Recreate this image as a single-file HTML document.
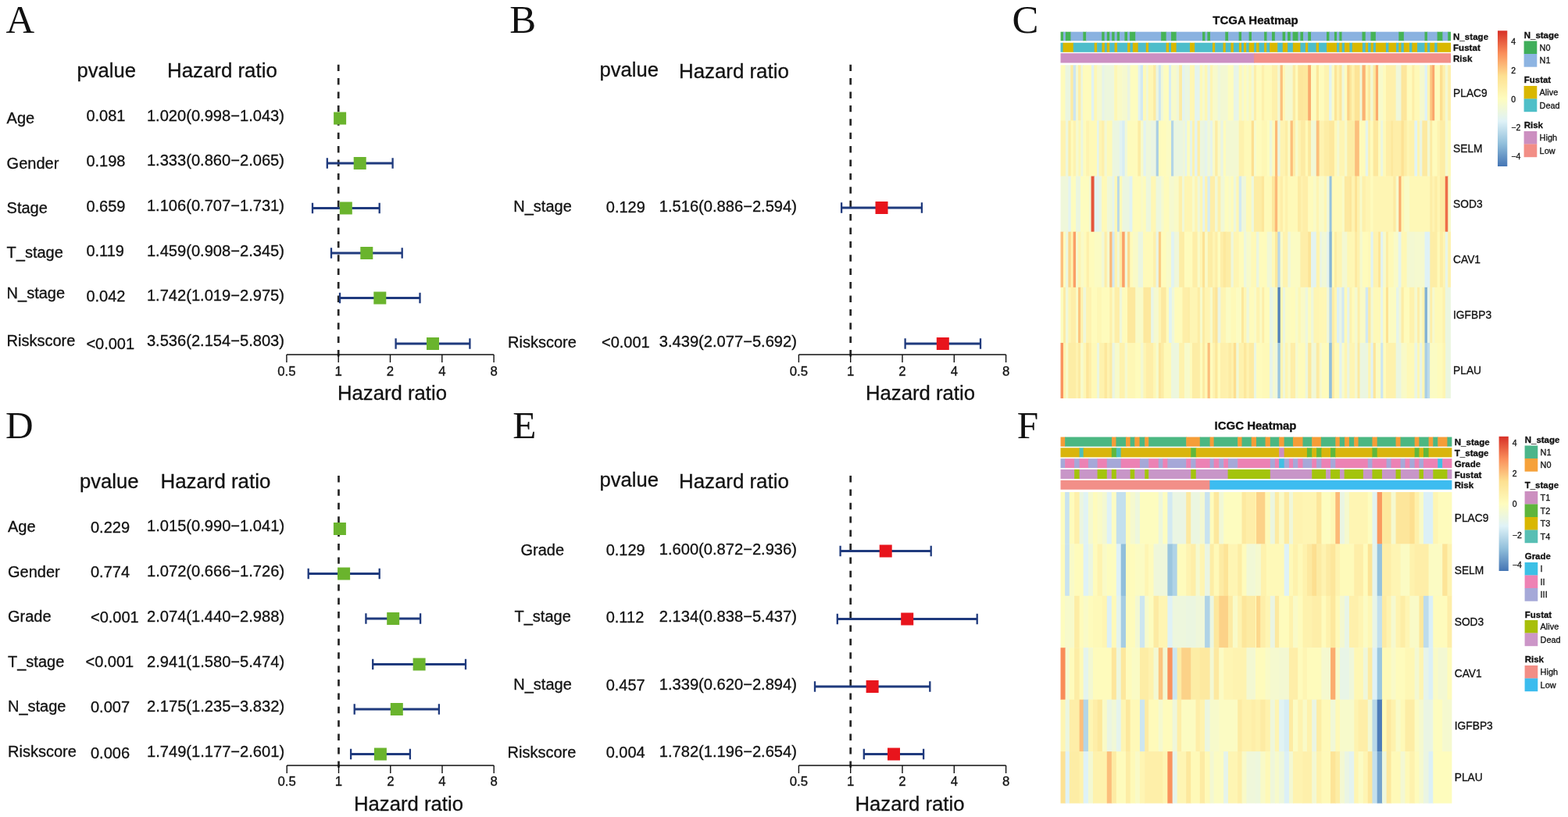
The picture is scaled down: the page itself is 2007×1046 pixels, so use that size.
<!DOCTYPE html>
<html lang="en"><head><meta charset="utf-8"><title>Forest plots and heatmaps</title>
<style>
html,body{margin:0;padding:0;background:#fff}
svg{display:block}
text{fill:#111}
.s{font-family:"Liberation Sans",Arial,Helvetica,sans-serif;stroke:#111;stroke-width:0.3px}
.b{font-family:"Liberation Sans",Arial,Helvetica,sans-serif;font-weight:bold;stroke:#111;stroke-width:0.3px}
.f{font-family:"Liberation Serif","Times New Roman",serif}
</style></head><body>
<svg width="2007" height="1046" viewBox="0 0 2007 1046">
<rect width="2007" height="1046" fill="#fff"/>
<text x="7.4" y="42.3" font-size="50.8" class="f">A</text>
<text x="98.5" y="99" font-size="25.6" class="s">pvalue</text>
<text x="214" y="99" font-size="25.85" class="s">Hazard ratio</text>
<line x1="433.2" y1="82.7" x2="433.2" y2="463" stroke="#262626" stroke-width="2.7" stroke-dasharray="8.4 9"/>
<text x="8.6" y="158.4" font-size="20" class="s">Age</text>
<text x="110.4" y="155.3" font-size="20" class="s">0.081</text>
<text x="187.9" y="154.6" font-size="20.12" class="s">1.020(0.998−1.043)</text>
<path d="M433.0 151.5H437.2" stroke="#1f3a7d" stroke-width="2.8" fill="none"/><path d="M433.0 144.8v13.4M437.2 144.8v13.4" stroke="#1f3a7d" stroke-width="2.3" fill="none"/>
<rect x="427.1" y="143.5" width="16" height="16" fill="#6ab42d"/>
<text x="8.6" y="216.1" font-size="20" class="s">Gender</text>
<text x="110.4" y="212.6" font-size="20" class="s">0.198</text>
<text x="187.9" y="211.8" font-size="20.12" class="s">1.333(0.860−2.065)</text>
<path d="M418.8 209H502.6" stroke="#1f3a7d" stroke-width="2.8" fill="none"/><path d="M418.8 202.3v13.4M502.6 202.3v13.4" stroke="#1f3a7d" stroke-width="2.3" fill="none"/>
<rect x="452.7" y="201" width="16" height="16" fill="#6ab42d"/>
<text x="8.6" y="273.4" font-size="20" class="s">Stage</text>
<text x="110.4" y="270.8" font-size="20" class="s">0.659</text>
<text x="187.9" y="270.1" font-size="20.12" class="s">1.106(0.707−1.731)</text>
<path d="M400.0 266.5H485.7" stroke="#1f3a7d" stroke-width="2.8" fill="none"/><path d="M400.0 259.8v13.4M485.7 259.8v13.4" stroke="#1f3a7d" stroke-width="2.3" fill="none"/>
<rect x="434.8" y="258.5" width="16" height="16" fill="#6ab42d"/>
<text x="8.6" y="329.6" font-size="20" class="s">T_stage</text>
<text x="110.4" y="328.3" font-size="20" class="s">0.119</text>
<text x="187.9" y="328.1" font-size="20.12" class="s">1.459(0.908−2.345)</text>
<path d="M424.0 324H514.7" stroke="#1f3a7d" stroke-width="2.8" fill="none"/><path d="M424.0 317.3v13.4M514.7 317.3v13.4" stroke="#1f3a7d" stroke-width="2.3" fill="none"/>
<rect x="461.3" y="316" width="16" height="16" fill="#6ab42d"/>
<text x="8.6" y="382.0" font-size="20" class="s">N_stage</text>
<text x="110.4" y="385.6" font-size="20" class="s">0.042</text>
<text x="187.9" y="385.4" font-size="20.12" class="s">1.742(1.019−2.975)</text>
<path d="M435.0 381.5H537.5" stroke="#1f3a7d" stroke-width="2.8" fill="none"/><path d="M435.0 374.8v13.4M537.5 374.8v13.4" stroke="#1f3a7d" stroke-width="2.3" fill="none"/>
<rect x="478.3" y="373.5" width="16" height="16" fill="#6ab42d"/>
<text x="8.6" y="443.3" font-size="20" class="s">Riskscore</text>
<text x="110.4" y="447.1" font-size="20" class="s">&lt;0.001</text>
<text x="187.9" y="443.0" font-size="20.12" class="s">3.536(2.154−5.803)</text>
<path d="M506.6 440H601.4" stroke="#1f3a7d" stroke-width="2.8" fill="none"/><path d="M506.6 433.3v13.4M601.4 433.3v13.4" stroke="#1f3a7d" stroke-width="2.3" fill="none"/>
<rect x="546.0" y="432" width="16" height="16" fill="#6ab42d"/>
<path d="M366.9 454H632.1M366.9 454v10M433.2 454v10M499.5 454v10M565.8 454v10M632.1 454v10" stroke="#111" stroke-width="1.4" fill="none"/>
<text x="366.9" y="481" font-size="16.8" class="s" text-anchor="middle">0.5</text>
<text x="433.2" y="481" font-size="16.8" class="s" text-anchor="middle">1</text>
<text x="499.5" y="481" font-size="16.8" class="s" text-anchor="middle">2</text>
<text x="565.8" y="481" font-size="16.8" class="s" text-anchor="middle">4</text>
<text x="632.1" y="481" font-size="16.8" class="s" text-anchor="middle">8</text>
<text x="432" y="511.6" font-size="25.7" class="s">Hazard ratio</text>
<text x="652.2" y="42.3" font-size="50.8" class="f">B</text>
<text x="767.5" y="98" font-size="25.6" class="s">pvalue</text>
<text x="869" y="99.5" font-size="25.85" class="s">Hazard ratio</text>
<line x1="1088.7" y1="82.7" x2="1088.7" y2="463" stroke="#262626" stroke-width="2.7" stroke-dasharray="8.4 9"/>
<text x="657.3" y="270.5" font-size="20" class="s">N_stage</text>
<text x="775.8" y="271.5" font-size="20" class="s">0.129</text>
<text x="843.8" y="270.5" font-size="20.12" class="s">1.516(0.886−2.594)</text>
<path d="M1077.1 266H1179.9" stroke="#1f3a7d" stroke-width="2.8" fill="none"/><path d="M1077.1 259.3v13.4M1179.9 259.3v13.4" stroke="#1f3a7d" stroke-width="2.3" fill="none"/>
<rect x="1120.5" y="258" width="16" height="16" fill="#e8141c"/>
<text x="650" y="445" font-size="20" class="s">Riskscore</text>
<text x="770" y="444.5" font-size="20" class="s">&lt;0.001</text>
<text x="843.8" y="444" font-size="20.12" class="s">3.439(2.077−5.692)</text>
<path d="M1158.6 440H1255.0" stroke="#1f3a7d" stroke-width="2.8" fill="none"/><path d="M1158.6 433.3v13.4M1255.0 433.3v13.4" stroke="#1f3a7d" stroke-width="2.3" fill="none"/>
<rect x="1198.8" y="432" width="16" height="16" fill="#e8141c"/>
<path d="M1022.4 454H1287.6M1022.4 454v10M1088.7 454v10M1155.0 454v10M1221.3 454v10M1287.6 454v10" stroke="#111" stroke-width="1.4" fill="none"/>
<text x="1022.4" y="481" font-size="16.8" class="s" text-anchor="middle">0.5</text>
<text x="1088.7" y="481" font-size="16.8" class="s" text-anchor="middle">1</text>
<text x="1155.0" y="481" font-size="16.8" class="s" text-anchor="middle">2</text>
<text x="1221.3" y="481" font-size="16.8" class="s" text-anchor="middle">4</text>
<text x="1287.6" y="481" font-size="16.8" class="s" text-anchor="middle">8</text>
<text x="1108" y="511.6" font-size="25.7" class="s">Hazard ratio</text>
<text x="6.9" y="560.5" font-size="49.3" class="f">D</text>
<text x="102" y="624.5" font-size="25.6" class="s">pvalue</text>
<text x="205.5" y="624.5" font-size="25.85" class="s">Hazard ratio</text>
<line x1="433.5" y1="609" x2="433.5" y2="989" stroke="#262626" stroke-width="2.7" stroke-dasharray="8.4 9"/>
<text x="10.0" y="681.4" font-size="20" class="s">Age</text>
<text x="116" y="681.5" font-size="20" class="s">0.229</text>
<text x="188.0" y="680.3" font-size="20.12" class="s">1.015(0.990−1.041)</text>
<path d="M432.5 677H437.3" stroke="#1f3a7d" stroke-width="2.8" fill="none"/><path d="M432.5 670.3v13.4M437.3 670.3v13.4" stroke="#1f3a7d" stroke-width="2.3" fill="none"/>
<rect x="426.9" y="669" width="16" height="16" fill="#6ab42d"/>
<text x="10.0" y="738.9" font-size="20" class="s">Gender</text>
<text x="116" y="739.0" font-size="20" class="s">0.774</text>
<text x="188.0" y="737.8" font-size="20.12" class="s">1.072(0.666−1.726)</text>
<path d="M394.7 734.5H485.7" stroke="#1f3a7d" stroke-width="2.8" fill="none"/><path d="M394.7 727.8v13.4M485.7 727.8v13.4" stroke="#1f3a7d" stroke-width="2.3" fill="none"/>
<rect x="432.1" y="726.5" width="16" height="16" fill="#6ab42d"/>
<text x="10.0" y="795.9" font-size="20" class="s">Grade</text>
<text x="116" y="797.0" font-size="20" class="s">&lt;0.001</text>
<text x="188.0" y="796.3" font-size="20.12" class="s">2.074(1.440−2.988)</text>
<path d="M468.4 792H538.1" stroke="#1f3a7d" stroke-width="2.8" fill="none"/><path d="M468.4 785.3v13.4M538.1 785.3v13.4" stroke="#1f3a7d" stroke-width="2.3" fill="none"/>
<rect x="495.2" y="784" width="16" height="16" fill="#6ab42d"/>
<text x="10.0" y="853.9" font-size="20" class="s">T_stage</text>
<text x="109.5" y="854.0" font-size="20" class="s">&lt;0.001</text>
<text x="188.0" y="853.8" font-size="20.12" class="s">2.941(1.580−5.474)</text>
<path d="M477.2 850.5H596.0" stroke="#1f3a7d" stroke-width="2.8" fill="none"/><path d="M477.2 843.8v13.4M596.0 843.8v13.4" stroke="#1f3a7d" stroke-width="2.3" fill="none"/>
<rect x="528.6" y="842.5" width="16" height="16" fill="#6ab42d"/>
<text x="10.0" y="910.9" font-size="20" class="s">N_stage</text>
<text x="116" y="912.0" font-size="20" class="s">0.007</text>
<text x="188.0" y="910.8" font-size="20.12" class="s">2.175(1.235−3.832)</text>
<path d="M453.7 908H561.9" stroke="#1f3a7d" stroke-width="2.8" fill="none"/><path d="M453.7 901.3v13.4M561.9 901.3v13.4" stroke="#1f3a7d" stroke-width="2.3" fill="none"/>
<rect x="499.8" y="900" width="16" height="16" fill="#6ab42d"/>
<text x="10.0" y="968.9" font-size="20" class="s">Riskscore</text>
<text x="116" y="970.5" font-size="20" class="s">0.006</text>
<text x="188.0" y="968.8" font-size="20.12" class="s">1.749(1.177−2.601)</text>
<path d="M449.1 965.5H524.9" stroke="#1f3a7d" stroke-width="2.8" fill="none"/><path d="M449.1 958.8v13.4M524.9 958.8v13.4" stroke="#1f3a7d" stroke-width="2.3" fill="none"/>
<rect x="478.9" y="957.5" width="16" height="16" fill="#6ab42d"/>
<path d="M367.2 980H632.2M367.2 980v10M433.5 980v10M499.8 980v10M566.0 980v10M632.2 980v10" stroke="#111" stroke-width="1.4" fill="none"/>
<text x="367.2" y="1006.3" font-size="16.8" class="s" text-anchor="middle">0.5</text>
<text x="433.5" y="1006.3" font-size="16.8" class="s" text-anchor="middle">1</text>
<text x="499.8" y="1006.3" font-size="16.8" class="s" text-anchor="middle">2</text>
<text x="566.0" y="1006.3" font-size="16.8" class="s" text-anchor="middle">4</text>
<text x="632.2" y="1006.3" font-size="16.8" class="s" text-anchor="middle">8</text>
<text x="453" y="1038" font-size="25.7" class="s">Hazard ratio</text>
<text x="656.2" y="560.5" font-size="49.3" class="f">E</text>
<text x="767.5" y="623" font-size="25.6" class="s">pvalue</text>
<text x="869" y="624.5" font-size="25.85" class="s">Hazard ratio</text>
<line x1="1088.7" y1="609" x2="1088.7" y2="989" stroke="#262626" stroke-width="2.7" stroke-dasharray="8.4 9"/>
<text x="666.5" y="711.2" font-size="20" class="s">Grade</text>
<text x="775.7" y="711.0" font-size="20" class="s">0.129</text>
<text x="843.8" y="709.8" font-size="20.12" class="s">1.600(0.872−2.936)</text>
<path d="M1075.6 705.5H1191.7" stroke="#1f3a7d" stroke-width="2.8" fill="none"/><path d="M1075.6 698.8v13.4M1191.7 698.8v13.4" stroke="#1f3a7d" stroke-width="2.3" fill="none"/>
<rect x="1125.7" y="697.5" width="16" height="16" fill="#e8141c"/>
<text x="658.5" y="795.7" font-size="20" class="s">T_stage</text>
<text x="775.7" y="796.5" font-size="20" class="s">0.112</text>
<text x="843.8" y="795.8" font-size="20.12" class="s">2.134(0.838−5.437)</text>
<path d="M1071.8 792.5H1250.7" stroke="#1f3a7d" stroke-width="2.8" fill="none"/><path d="M1071.8 785.8v13.4M1250.7 785.8v13.4" stroke="#1f3a7d" stroke-width="2.3" fill="none"/>
<rect x="1153.2" y="784.5" width="16" height="16" fill="#e8141c"/>
<text x="657.3" y="882.8" font-size="20" class="s">N_stage</text>
<text x="775.7" y="883.6" font-size="20" class="s">0.457</text>
<text x="843.8" y="882.8" font-size="20.12" class="s">1.339(0.620−2.894)</text>
<path d="M1043.0 879H1190.3" stroke="#1f3a7d" stroke-width="2.8" fill="none"/><path d="M1043.0 872.3v13.4M1190.3 872.3v13.4" stroke="#1f3a7d" stroke-width="2.3" fill="none"/>
<rect x="1108.6" y="871" width="16" height="16" fill="#e8141c"/>
<text x="649.6" y="970.1" font-size="20" class="s">Riskscore</text>
<text x="775.7" y="970.1" font-size="20" class="s">0.004</text>
<text x="843.8" y="969.1" font-size="20.12" class="s">1.782(1.196−2.654)</text>
<path d="M1105.8 965.5H1182.1" stroke="#1f3a7d" stroke-width="2.8" fill="none"/><path d="M1105.8 958.8v13.4M1182.1 958.8v13.4" stroke="#1f3a7d" stroke-width="2.3" fill="none"/>
<rect x="1136.0" y="957.5" width="16" height="16" fill="#e8141c"/>
<path d="M1022.4 980H1287.6M1022.4 980v10M1088.7 980v10M1155.0 980v10M1221.3 980v10M1287.6 980v10" stroke="#111" stroke-width="1.4" fill="none"/>
<text x="1022.4" y="1006.3" font-size="16.8" class="s" text-anchor="middle">0.5</text>
<text x="1088.7" y="1006.3" font-size="16.8" class="s" text-anchor="middle">1</text>
<text x="1155.0" y="1006.3" font-size="16.8" class="s" text-anchor="middle">2</text>
<text x="1221.3" y="1006.3" font-size="16.8" class="s" text-anchor="middle">4</text>
<text x="1287.6" y="1006.3" font-size="16.8" class="s" text-anchor="middle">8</text>
<text x="1094.5" y="1038" font-size="25.7" class="s">Hazard ratio</text>
<text x="1607" y="31" font-size="15" class="b" text-anchor="middle">TCGA Heatmap</text>
<text x="1295.6" y="42.3" font-size="50.8" class="f">C</text>
<filter id="blC" filterUnits="userSpaceOnUse" x="1351.5" y="34.7" width="511.5" height="481.34999999999997"><feGaussianBlur stdDeviation="0.5 0.3"/></filter>
<g filter="url(#blC)">
<rect x="1357.54" y="40.7" width="3.99" height="11.6" fill="#45b356"/>
<rect x="1360.93" y="40.7" width="3.56" height="11.6" fill="#8ab2e0"/>
<rect x="1363.89" y="40.7" width="7.12" height="11.6" fill="#45b356"/>
<rect x="1370.42" y="40.7" width="16.52" height="11.6" fill="#8ab2e0"/>
<rect x="1386.34" y="40.7" width="4.41" height="11.6" fill="#45b356"/>
<rect x="1390.15" y="40.7" width="20.67" height="11.6" fill="#8ab2e0"/>
<rect x="1410.23" y="40.7" width="3.99" height="11.6" fill="#45b356"/>
<rect x="1413.61" y="40.7" width="3.82" height="11.6" fill="#8ab2e0"/>
<rect x="1416.83" y="40.7" width="3.99" height="11.6" fill="#45b356"/>
<rect x="1420.22" y="40.7" width="3.56" height="11.6" fill="#8ab2e0"/>
<rect x="1423.19" y="40.7" width="3.99" height="11.6" fill="#45b356"/>
<rect x="1426.57" y="40.7" width="3.73" height="11.6" fill="#8ab2e0"/>
<rect x="1429.71" y="40.7" width="3.99" height="11.6" fill="#45b356"/>
<rect x="1433.10" y="40.7" width="6.95" height="11.6" fill="#8ab2e0"/>
<rect x="1439.45" y="40.7" width="4.24" height="11.6" fill="#45b356"/>
<rect x="1443.09" y="40.7" width="3.56" height="11.6" fill="#8ab2e0"/>
<rect x="1446.06" y="40.7" width="7.80" height="11.6" fill="#45b356"/>
<rect x="1453.26" y="40.7" width="33.46" height="11.6" fill="#8ab2e0"/>
<rect x="1486.12" y="40.7" width="7.12" height="11.6" fill="#45b356"/>
<rect x="1492.64" y="40.7" width="6.95" height="11.6" fill="#8ab2e0"/>
<rect x="1499.00" y="40.7" width="7.21" height="11.6" fill="#45b356"/>
<rect x="1505.60" y="40.7" width="34.06" height="11.6" fill="#8ab2e0"/>
<rect x="1539.06" y="40.7" width="3.99" height="11.6" fill="#45b356"/>
<rect x="1542.45" y="40.7" width="3.56" height="11.6" fill="#8ab2e0"/>
<rect x="1545.41" y="40.7" width="4.16" height="11.6" fill="#45b356"/>
<rect x="1548.97" y="40.7" width="19.91" height="11.6" fill="#8ab2e0"/>
<rect x="1568.28" y="40.7" width="4.41" height="11.6" fill="#45b356"/>
<rect x="1572.09" y="40.7" width="14.15" height="11.6" fill="#8ab2e0"/>
<rect x="1585.65" y="40.7" width="3.99" height="11.6" fill="#45b356"/>
<rect x="1589.03" y="40.7" width="10.17" height="11.6" fill="#8ab2e0"/>
<rect x="1598.60" y="40.7" width="3.99" height="11.6" fill="#45b356"/>
<rect x="1601.99" y="40.7" width="16.69" height="11.6" fill="#8ab2e0"/>
<rect x="1618.09" y="40.7" width="3.99" height="11.6" fill="#45b356"/>
<rect x="1621.47" y="40.7" width="7.12" height="11.6" fill="#8ab2e0"/>
<rect x="1628.00" y="40.7" width="4.41" height="11.6" fill="#45b356"/>
<rect x="1631.81" y="40.7" width="10.34" height="11.6" fill="#8ab2e0"/>
<rect x="1641.55" y="40.7" width="4.24" height="11.6" fill="#45b356"/>
<rect x="1645.19" y="40.7" width="3.48" height="11.6" fill="#8ab2e0"/>
<rect x="1648.07" y="40.7" width="4.24" height="11.6" fill="#45b356"/>
<rect x="1651.71" y="40.7" width="3.56" height="11.6" fill="#8ab2e0"/>
<rect x="1654.68" y="40.7" width="7.38" height="11.6" fill="#45b356"/>
<rect x="1661.45" y="40.7" width="3.56" height="11.6" fill="#8ab2e0"/>
<rect x="1664.42" y="40.7" width="4.24" height="11.6" fill="#45b356"/>
<rect x="1668.06" y="40.7" width="6.70" height="11.6" fill="#8ab2e0"/>
<rect x="1674.16" y="40.7" width="4.41" height="11.6" fill="#45b356"/>
<rect x="1677.97" y="40.7" width="20.62" height="11.6" fill="#8ab2e0"/>
<rect x="1698.00" y="40.7" width="3.99" height="11.6" fill="#45b356"/>
<rect x="1701.38" y="40.7" width="7.12" height="11.6" fill="#8ab2e0"/>
<rect x="1707.91" y="40.7" width="3.73" height="11.6" fill="#45b356"/>
<rect x="1711.04" y="40.7" width="3.82" height="11.6" fill="#8ab2e0"/>
<rect x="1714.26" y="40.7" width="3.82" height="11.6" fill="#45b356"/>
<rect x="1717.48" y="40.7" width="26.60" height="11.6" fill="#8ab2e0"/>
<rect x="1743.48" y="40.7" width="4.84" height="11.6" fill="#45b356"/>
<rect x="1747.72" y="40.7" width="7.38" height="11.6" fill="#8ab2e0"/>
<rect x="1754.49" y="40.7" width="6.95" height="11.6" fill="#45b356"/>
<rect x="1760.85" y="40.7" width="30.08" height="11.6" fill="#8ab2e0"/>
<rect x="1790.32" y="40.7" width="7.12" height="11.6" fill="#45b356"/>
<rect x="1796.84" y="40.7" width="27.28" height="11.6" fill="#8ab2e0"/>
<rect x="1823.53" y="40.7" width="3.99" height="11.6" fill="#45b356"/>
<rect x="1826.91" y="40.7" width="13.31" height="11.6" fill="#8ab2e0"/>
<rect x="1839.62" y="40.7" width="7.38" height="11.6" fill="#45b356"/>
<rect x="1846.40" y="40.7" width="7.38" height="11.6" fill="#8ab2e0"/>
<rect x="1853.17" y="40.7" width="3.83" height="11.6" fill="#45b356"/>
<rect x="1357.50" y="54.7" width="3.61" height="12.1" fill="#4dbdca"/>
<rect x="1360.51" y="54.7" width="13.90" height="12.1" fill="#d9b800"/>
<rect x="1373.80" y="54.7" width="27.54" height="12.1" fill="#4dbdca"/>
<rect x="1400.74" y="54.7" width="3.99" height="12.1" fill="#d9b800"/>
<rect x="1404.13" y="54.7" width="6.95" height="12.1" fill="#4dbdca"/>
<rect x="1410.48" y="54.7" width="3.99" height="12.1" fill="#d9b800"/>
<rect x="1413.87" y="54.7" width="3.56" height="12.1" fill="#4dbdca"/>
<rect x="1416.83" y="54.7" width="3.99" height="12.1" fill="#d9b800"/>
<rect x="1420.22" y="54.7" width="6.95" height="12.1" fill="#4dbdca"/>
<rect x="1426.57" y="54.7" width="3.99" height="12.1" fill="#d9b800"/>
<rect x="1429.96" y="54.7" width="13.73" height="12.1" fill="#4dbdca"/>
<rect x="1443.09" y="54.7" width="3.99" height="12.1" fill="#d9b800"/>
<rect x="1446.48" y="54.7" width="3.99" height="12.1" fill="#4dbdca"/>
<rect x="1449.87" y="54.7" width="7.38" height="12.1" fill="#d9b800"/>
<rect x="1456.64" y="54.7" width="10.76" height="12.1" fill="#4dbdca"/>
<rect x="1466.81" y="54.7" width="3.82" height="12.1" fill="#d9b800"/>
<rect x="1470.03" y="54.7" width="23.22" height="12.1" fill="#4dbdca"/>
<rect x="1492.64" y="54.7" width="3.99" height="12.1" fill="#d9b800"/>
<rect x="1496.03" y="54.7" width="3.56" height="12.1" fill="#4dbdca"/>
<rect x="1499.00" y="54.7" width="7.21" height="12.1" fill="#d9b800"/>
<rect x="1505.60" y="54.7" width="17.96" height="12.1" fill="#4dbdca"/>
<rect x="1522.96" y="54.7" width="6.78" height="12.1" fill="#d9b800"/>
<rect x="1529.15" y="54.7" width="23.47" height="12.1" fill="#4dbdca"/>
<rect x="1552.02" y="54.7" width="3.73" height="12.1" fill="#d9b800"/>
<rect x="1555.15" y="54.7" width="11.02" height="12.1" fill="#4dbdca"/>
<rect x="1565.57" y="54.7" width="3.73" height="12.1" fill="#d9b800"/>
<rect x="1568.70" y="54.7" width="7.38" height="12.1" fill="#4dbdca"/>
<rect x="1575.48" y="54.7" width="3.99" height="12.1" fill="#d9b800"/>
<rect x="1578.87" y="54.7" width="7.63" height="12.1" fill="#4dbdca"/>
<rect x="1585.90" y="54.7" width="3.73" height="12.1" fill="#d9b800"/>
<rect x="1589.03" y="54.7" width="3.56" height="12.1" fill="#4dbdca"/>
<rect x="1592.00" y="54.7" width="3.82" height="12.1" fill="#d9b800"/>
<rect x="1595.22" y="54.7" width="3.99" height="12.1" fill="#4dbdca"/>
<rect x="1598.60" y="54.7" width="7.12" height="12.1" fill="#d9b800"/>
<rect x="1605.13" y="54.7" width="3.56" height="12.1" fill="#4dbdca"/>
<rect x="1608.09" y="54.7" width="3.99" height="12.1" fill="#d9b800"/>
<rect x="1611.48" y="54.7" width="7.21" height="12.1" fill="#4dbdca"/>
<rect x="1618.09" y="54.7" width="3.73" height="12.1" fill="#d9b800"/>
<rect x="1621.22" y="54.7" width="4.41" height="12.1" fill="#4dbdca"/>
<rect x="1625.03" y="54.7" width="10.76" height="12.1" fill="#d9b800"/>
<rect x="1635.20" y="54.7" width="7.21" height="12.1" fill="#4dbdca"/>
<rect x="1641.80" y="54.7" width="6.87" height="12.1" fill="#d9b800"/>
<rect x="1648.07" y="54.7" width="7.38" height="12.1" fill="#4dbdca"/>
<rect x="1654.85" y="54.7" width="10.17" height="12.1" fill="#d9b800"/>
<rect x="1664.42" y="54.7" width="7.12" height="12.1" fill="#4dbdca"/>
<rect x="1670.94" y="54.7" width="3.82" height="12.1" fill="#d9b800"/>
<rect x="1674.16" y="54.7" width="11.19" height="12.1" fill="#4dbdca"/>
<rect x="1684.75" y="54.7" width="3.85" height="12.1" fill="#d9b800"/>
<rect x="1688.00" y="54.7" width="10.60" height="12.1" fill="#4dbdca"/>
<rect x="1698.00" y="54.7" width="13.64" height="12.1" fill="#d9b800"/>
<rect x="1711.04" y="54.7" width="3.82" height="12.1" fill="#4dbdca"/>
<rect x="1714.26" y="54.7" width="3.99" height="12.1" fill="#d9b800"/>
<rect x="1717.65" y="54.7" width="3.82" height="12.1" fill="#4dbdca"/>
<rect x="1720.86" y="54.7" width="7.12" height="12.1" fill="#d9b800"/>
<rect x="1727.39" y="54.7" width="3.99" height="12.1" fill="#4dbdca"/>
<rect x="1730.78" y="54.7" width="13.73" height="12.1" fill="#d9b800"/>
<rect x="1743.90" y="54.7" width="4.41" height="12.1" fill="#4dbdca"/>
<rect x="1747.72" y="54.7" width="3.99" height="12.1" fill="#d9b800"/>
<rect x="1751.10" y="54.7" width="3.99" height="12.1" fill="#4dbdca"/>
<rect x="1754.49" y="54.7" width="3.99" height="12.1" fill="#d9b800"/>
<rect x="1757.88" y="54.7" width="3.56" height="12.1" fill="#4dbdca"/>
<rect x="1760.85" y="54.7" width="13.73" height="12.1" fill="#d9b800"/>
<rect x="1773.97" y="54.7" width="3.99" height="12.1" fill="#4dbdca"/>
<rect x="1777.36" y="54.7" width="10.34" height="12.1" fill="#d9b800"/>
<rect x="1787.10" y="54.7" width="3.82" height="12.1" fill="#4dbdca"/>
<rect x="1790.32" y="54.7" width="3.73" height="12.1" fill="#d9b800"/>
<rect x="1793.46" y="54.7" width="3.99" height="12.1" fill="#4dbdca"/>
<rect x="1796.84" y="54.7" width="7.80" height="12.1" fill="#d9b800"/>
<rect x="1804.04" y="54.7" width="3.99" height="12.1" fill="#4dbdca"/>
<rect x="1807.43" y="54.7" width="7.21" height="12.1" fill="#d9b800"/>
<rect x="1814.04" y="54.7" width="10.09" height="12.1" fill="#4dbdca"/>
<rect x="1823.53" y="54.7" width="3.99" height="12.1" fill="#d9b800"/>
<rect x="1826.91" y="54.7" width="3.99" height="12.1" fill="#4dbdca"/>
<rect x="1830.30" y="54.7" width="6.53" height="12.1" fill="#d9b800"/>
<rect x="1836.23" y="54.7" width="3.99" height="12.1" fill="#4dbdca"/>
<rect x="1839.62" y="54.7" width="17.38" height="12.1" fill="#d9b800"/>
<rect x="1357.50" y="68.2" width="248.10" height="12.3" fill="#cc8fc2"/>
<rect x="1605.00" y="68.2" width="252.00" height="12.3" fill="#f28f88"/>
<rect x="1357.50" y="83.3" width="6.57" height="71.5" fill="#fefbbc"/>
<rect x="1363.47" y="83.3" width="7.38" height="71.5" fill="#ebf6e0"/>
<rect x="1370.25" y="83.3" width="3.99" height="71.5" fill="#fdeba3"/>
<rect x="1373.63" y="83.3" width="3.99" height="71.5" fill="#cde6f0"/>
<rect x="1377.02" y="83.3" width="3.56" height="71.5" fill="#f3f8d2"/>
<rect x="1379.99" y="83.3" width="3.99" height="71.5" fill="#feeea8"/>
<rect x="1383.38" y="83.3" width="3.14" height="71.5" fill="#ebf6e0"/>
<rect x="1385.92" y="83.3" width="11.61" height="71.5" fill="#fefbbc"/>
<rect x="1396.93" y="83.3" width="3.99" height="71.5" fill="#e1f3f3"/>
<rect x="1400.32" y="83.3" width="4.41" height="71.5" fill="#fef7b5"/>
<rect x="1404.13" y="83.3" width="6.95" height="71.5" fill="#f5f9cf"/>
<rect x="1410.48" y="83.3" width="3.56" height="71.5" fill="#e6f4ea"/>
<rect x="1413.45" y="83.3" width="13.31" height="71.5" fill="#edf7dd"/>
<rect x="1426.15" y="83.3" width="4.41" height="71.5" fill="#fef7b5"/>
<rect x="1429.96" y="83.3" width="6.95" height="71.5" fill="#f9fac7"/>
<rect x="1436.32" y="83.3" width="7.38" height="71.5" fill="#f5f9cf"/>
<rect x="1443.09" y="83.3" width="3.99" height="71.5" fill="#eaf5e3"/>
<rect x="1446.48" y="83.3" width="10.76" height="71.5" fill="#fdfcbf"/>
<rect x="1456.64" y="83.3" width="3.56" height="71.5" fill="#e3f3f0"/>
<rect x="1459.61" y="83.3" width="3.99" height="71.5" fill="#d2e9f2"/>
<rect x="1463.00" y="83.3" width="4.41" height="71.5" fill="#fef9b8"/>
<rect x="1466.81" y="83.3" width="3.56" height="71.5" fill="#eff7da"/>
<rect x="1469.77" y="83.3" width="6.95" height="71.5" fill="#fef7b5"/>
<rect x="1476.13" y="83.3" width="3.99" height="71.5" fill="#fdeba3"/>
<rect x="1479.51" y="83.3" width="3.99" height="71.5" fill="#eaf5e3"/>
<rect x="1482.90" y="83.3" width="3.56" height="71.5" fill="#cde6f0"/>
<rect x="1485.87" y="83.3" width="3.99" height="71.5" fill="#f1f8d6"/>
<rect x="1489.26" y="83.3" width="7.38" height="71.5" fill="#fdfcbf"/>
<rect x="1496.03" y="83.3" width="3.56" height="71.5" fill="#d7edf4"/>
<rect x="1499.00" y="83.3" width="7.38" height="71.5" fill="#f7facb"/>
<rect x="1505.77" y="83.3" width="3.99" height="71.5" fill="#eff7da"/>
<rect x="1509.16" y="83.3" width="4.41" height="71.5" fill="#fdeba3"/>
<rect x="1512.97" y="83.3" width="3.99" height="71.5" fill="#e3f3f0"/>
<rect x="1516.36" y="83.3" width="4.24" height="71.5" fill="#ebf6e0"/>
<rect x="1520.00" y="83.3" width="3.56" height="71.5" fill="#eaf5e3"/>
<rect x="1522.96" y="83.3" width="6.78" height="71.5" fill="#fef7b5"/>
<rect x="1529.15" y="83.3" width="7.12" height="71.5" fill="#e5f4ed"/>
<rect x="1535.67" y="83.3" width="3.99" height="71.5" fill="#fef9b8"/>
<rect x="1539.06" y="83.3" width="3.56" height="71.5" fill="#f5f9cf"/>
<rect x="1542.02" y="83.3" width="3.99" height="71.5" fill="#fef7b5"/>
<rect x="1545.41" y="83.3" width="3.99" height="71.5" fill="#e6f4ea"/>
<rect x="1548.80" y="83.3" width="3.99" height="71.5" fill="#fef5b3"/>
<rect x="1552.19" y="83.3" width="6.95" height="71.5" fill="#f7facb"/>
<rect x="1558.54" y="83.3" width="3.99" height="71.5" fill="#edf7dd"/>
<rect x="1561.93" y="83.3" width="10.34" height="71.5" fill="#f3f8d2"/>
<rect x="1571.67" y="83.3" width="7.80" height="71.5" fill="#fdfcbf"/>
<rect x="1578.87" y="83.3" width="7.38" height="71.5" fill="#e8f5e7"/>
<rect x="1585.65" y="83.3" width="4.41" height="71.5" fill="#fef9b8"/>
<rect x="1589.46" y="83.3" width="3.14" height="71.5" fill="#f3f8d2"/>
<rect x="1592.00" y="83.3" width="3.99" height="71.5" fill="#fefbbc"/>
<rect x="1595.39" y="83.3" width="3.56" height="71.5" fill="#f5f9cf"/>
<rect x="1598.35" y="83.3" width="3.99" height="71.5" fill="#fef9b8"/>
<rect x="1601.74" y="83.3" width="3.82" height="71.5" fill="#f1f8d6"/>
<rect x="1604.96" y="83.3" width="3.73" height="71.5" fill="#feeea8"/>
<rect x="1608.09" y="83.3" width="7.38" height="71.5" fill="#fefbbc"/>
<rect x="1614.87" y="83.3" width="3.99" height="71.5" fill="#fef0ab"/>
<rect x="1618.26" y="83.3" width="10.34" height="71.5" fill="#fef9b8"/>
<rect x="1628.00" y="83.3" width="7.80" height="71.5" fill="#fef0ab"/>
<rect x="1635.20" y="83.3" width="3.99" height="71.5" fill="#f3f8d2"/>
<rect x="1638.58" y="83.3" width="3.82" height="71.5" fill="#fcbf7b"/>
<rect x="1641.80" y="83.3" width="3.73" height="71.5" fill="#fef7b5"/>
<rect x="1644.94" y="83.3" width="10.34" height="71.5" fill="#f5f9cf"/>
<rect x="1654.68" y="83.3" width="3.99" height="71.5" fill="#fdeba3"/>
<rect x="1658.07" y="83.3" width="3.82" height="71.5" fill="#fefbbc"/>
<rect x="1661.29" y="83.3" width="7.12" height="71.5" fill="#fde69b"/>
<rect x="1667.81" y="83.3" width="6.95" height="71.5" fill="#fde89d"/>
<rect x="1674.16" y="83.3" width="4.41" height="71.5" fill="#fbac6e"/>
<rect x="1677.97" y="83.3" width="7.38" height="71.5" fill="#fdfcbf"/>
<rect x="1684.75" y="83.3" width="3.85" height="71.5" fill="#fde69b"/>
<rect x="1688.00" y="83.3" width="7.38" height="71.5" fill="#fefbbc"/>
<rect x="1694.78" y="83.3" width="6.95" height="71.5" fill="#fef3b0"/>
<rect x="1701.13" y="83.3" width="3.99" height="71.5" fill="#e3f3f0"/>
<rect x="1704.52" y="83.3" width="3.99" height="71.5" fill="#fbfbc3"/>
<rect x="1707.91" y="83.3" width="3.73" height="71.5" fill="#fde497"/>
<rect x="1711.04" y="83.3" width="3.82" height="71.5" fill="#fef3b0"/>
<rect x="1714.26" y="83.3" width="3.82" height="71.5" fill="#fde69b"/>
<rect x="1717.48" y="83.3" width="3.99" height="71.5" fill="#eff7da"/>
<rect x="1720.86" y="83.3" width="3.99" height="71.5" fill="#fdfcbf"/>
<rect x="1724.25" y="83.3" width="3.73" height="71.5" fill="#fcd288"/>
<rect x="1727.39" y="83.3" width="3.14" height="71.5" fill="#fde69b"/>
<rect x="1729.93" y="83.3" width="4.41" height="71.5" fill="#fef2ad"/>
<rect x="1733.74" y="83.3" width="7.38" height="71.5" fill="#fde497"/>
<rect x="1740.52" y="83.3" width="3.56" height="71.5" fill="#f1f8d6"/>
<rect x="1743.48" y="83.3" width="4.84" height="71.5" fill="#fbb272"/>
<rect x="1747.72" y="83.3" width="3.99" height="71.5" fill="#fef5b3"/>
<rect x="1751.10" y="83.3" width="3.56" height="71.5" fill="#fde9a0"/>
<rect x="1754.07" y="83.3" width="4.16" height="71.5" fill="#f3f8d2"/>
<rect x="1757.63" y="83.3" width="3.82" height="71.5" fill="#fde89d"/>
<rect x="1760.85" y="83.3" width="3.82" height="71.5" fill="#fbac6e"/>
<rect x="1764.06" y="83.3" width="6.70" height="71.5" fill="#f7facb"/>
<rect x="1770.16" y="83.3" width="4.41" height="71.5" fill="#fefbbc"/>
<rect x="1773.97" y="83.3" width="13.31" height="71.5" fill="#fef0ab"/>
<rect x="1786.68" y="83.3" width="7.38" height="71.5" fill="#eff7da"/>
<rect x="1793.46" y="83.3" width="7.80" height="71.5" fill="#fde69b"/>
<rect x="1800.66" y="83.3" width="7.38" height="71.5" fill="#fefbbc"/>
<rect x="1807.43" y="83.3" width="3.56" height="71.5" fill="#feeea8"/>
<rect x="1810.40" y="83.3" width="7.38" height="71.5" fill="#fef9b8"/>
<rect x="1817.17" y="83.3" width="6.95" height="71.5" fill="#f5f9cf"/>
<rect x="1823.53" y="83.3" width="3.99" height="71.5" fill="#dff2f6"/>
<rect x="1826.91" y="83.3" width="3.99" height="71.5" fill="#fef5b3"/>
<rect x="1830.30" y="83.3" width="3.56" height="71.5" fill="#fcc57f"/>
<rect x="1833.27" y="83.3" width="3.56" height="71.5" fill="#fba66a"/>
<rect x="1836.23" y="83.3" width="7.38" height="71.5" fill="#fefbbc"/>
<rect x="1843.01" y="83.3" width="3.99" height="71.5" fill="#fddf90"/>
<rect x="1846.40" y="83.3" width="3.99" height="71.5" fill="#fef0ab"/>
<rect x="1849.78" y="83.3" width="3.99" height="71.5" fill="#f3f8d2"/>
<rect x="1853.17" y="83.3" width="3.83" height="71.5" fill="#fef0ab"/>
<rect x="1357.50" y="154.43" width="6.99" height="71.5" fill="#fef3b0"/>
<rect x="1363.89" y="154.43" width="3.99" height="71.5" fill="#edf7dd"/>
<rect x="1367.28" y="154.43" width="3.99" height="71.5" fill="#fdeda5"/>
<rect x="1370.67" y="154.43" width="3.56" height="71.5" fill="#fefbbc"/>
<rect x="1373.63" y="154.43" width="3.99" height="71.5" fill="#fef3b0"/>
<rect x="1377.02" y="154.43" width="3.99" height="71.5" fill="#f5f9cf"/>
<rect x="1380.41" y="154.43" width="3.56" height="71.5" fill="#fef7b5"/>
<rect x="1383.38" y="154.43" width="3.56" height="71.5" fill="#ebf6e0"/>
<rect x="1386.34" y="154.43" width="4.41" height="71.5" fill="#fefbbc"/>
<rect x="1390.15" y="154.43" width="4.41" height="71.5" fill="#fef3b0"/>
<rect x="1393.96" y="154.43" width="10.76" height="71.5" fill="#fef9b8"/>
<rect x="1404.13" y="154.43" width="3.14" height="71.5" fill="#e5f4ed"/>
<rect x="1406.67" y="154.43" width="3.99" height="71.5" fill="#fef5b3"/>
<rect x="1410.06" y="154.43" width="3.99" height="71.5" fill="#fef0ab"/>
<rect x="1413.45" y="154.43" width="3.99" height="71.5" fill="#f3f8d2"/>
<rect x="1416.83" y="154.43" width="7.38" height="71.5" fill="#fef9b8"/>
<rect x="1423.61" y="154.43" width="9.92" height="71.5" fill="#ebf6e0"/>
<rect x="1432.93" y="154.43" width="3.99" height="71.5" fill="#e3f3f0"/>
<rect x="1436.32" y="154.43" width="3.99" height="71.5" fill="#d7edf4"/>
<rect x="1439.70" y="154.43" width="3.99" height="71.5" fill="#f1f8d6"/>
<rect x="1443.09" y="154.43" width="13.73" height="71.5" fill="#fefbbc"/>
<rect x="1456.22" y="154.43" width="4.41" height="71.5" fill="#fdeda5"/>
<rect x="1460.03" y="154.43" width="3.99" height="71.5" fill="#f7facb"/>
<rect x="1463.42" y="154.43" width="3.99" height="71.5" fill="#e3f3f0"/>
<rect x="1466.81" y="154.43" width="6.95" height="71.5" fill="#eff7da"/>
<rect x="1473.16" y="154.43" width="7.12" height="71.5" fill="#eaf5e3"/>
<rect x="1479.68" y="154.43" width="3.82" height="71.5" fill="#aacfe4"/>
<rect x="1482.90" y="154.43" width="10.34" height="71.5" fill="#fefbbc"/>
<rect x="1492.64" y="154.43" width="6.95" height="71.5" fill="#fbfbc3"/>
<rect x="1499.00" y="154.43" width="3.82" height="71.5" fill="#b4d6e7"/>
<rect x="1502.21" y="154.43" width="12.63" height="71.5" fill="#ebf6e0"/>
<rect x="1514.24" y="154.43" width="3.14" height="71.5" fill="#f1f8d6"/>
<rect x="1516.78" y="154.43" width="3.14" height="71.5" fill="#e5f4ed"/>
<rect x="1519.32" y="154.43" width="1.28" height="71.5" fill="#fefbbc"/>
<rect x="1520.00" y="154.43" width="3.56" height="71.5" fill="#fdfcbf"/>
<rect x="1522.96" y="154.43" width="3.56" height="71.5" fill="#e6f4ea"/>
<rect x="1525.93" y="154.43" width="3.82" height="71.5" fill="#fef3b0"/>
<rect x="1529.15" y="154.43" width="3.99" height="71.5" fill="#e3f3f0"/>
<rect x="1532.54" y="154.43" width="3.99" height="71.5" fill="#feeea8"/>
<rect x="1535.92" y="154.43" width="6.70" height="71.5" fill="#ebf6e0"/>
<rect x="1542.02" y="154.43" width="3.99" height="71.5" fill="#e5f4ed"/>
<rect x="1545.41" y="154.43" width="3.99" height="71.5" fill="#f1f8d6"/>
<rect x="1548.80" y="154.43" width="3.82" height="71.5" fill="#e6f4ea"/>
<rect x="1552.02" y="154.43" width="3.73" height="71.5" fill="#f9fac7"/>
<rect x="1555.15" y="154.43" width="3.99" height="71.5" fill="#fdeda5"/>
<rect x="1558.54" y="154.43" width="4.41" height="71.5" fill="#f9fac7"/>
<rect x="1562.35" y="154.43" width="3.99" height="71.5" fill="#eaf5e3"/>
<rect x="1565.74" y="154.43" width="3.99" height="71.5" fill="#fefbbc"/>
<rect x="1569.13" y="154.43" width="17.12" height="71.5" fill="#f3f8d2"/>
<rect x="1585.65" y="154.43" width="7.38" height="71.5" fill="#fef2ad"/>
<rect x="1592.42" y="154.43" width="9.92" height="71.5" fill="#fef9b8"/>
<rect x="1601.74" y="154.43" width="3.82" height="71.5" fill="#fddf90"/>
<rect x="1604.96" y="154.43" width="3.73" height="71.5" fill="#f7facb"/>
<rect x="1608.09" y="154.43" width="7.38" height="71.5" fill="#fefbbc"/>
<rect x="1614.87" y="154.43" width="7.38" height="71.5" fill="#fef7b5"/>
<rect x="1621.64" y="154.43" width="3.99" height="71.5" fill="#fdfcbf"/>
<rect x="1625.03" y="154.43" width="3.99" height="71.5" fill="#edf7dd"/>
<rect x="1628.42" y="154.43" width="4.16" height="71.5" fill="#fef9b8"/>
<rect x="1631.98" y="154.43" width="3.82" height="71.5" fill="#fcb977"/>
<rect x="1635.20" y="154.43" width="3.99" height="71.5" fill="#ebf6e0"/>
<rect x="1638.58" y="154.43" width="6.95" height="71.5" fill="#fef3b0"/>
<rect x="1644.94" y="154.43" width="3.99" height="71.5" fill="#fdeda5"/>
<rect x="1648.33" y="154.43" width="3.82" height="71.5" fill="#fbfbc3"/>
<rect x="1651.54" y="154.43" width="3.90" height="71.5" fill="#fcbf7b"/>
<rect x="1654.85" y="154.43" width="3.82" height="71.5" fill="#feeea8"/>
<rect x="1658.07" y="154.43" width="3.99" height="71.5" fill="#f7facb"/>
<rect x="1661.45" y="154.43" width="3.99" height="71.5" fill="#fef3b0"/>
<rect x="1664.84" y="154.43" width="6.53" height="71.5" fill="#fdeba3"/>
<rect x="1670.77" y="154.43" width="3.99" height="71.5" fill="#fef9b8"/>
<rect x="1674.16" y="154.43" width="4.41" height="71.5" fill="#fde89d"/>
<rect x="1677.97" y="154.43" width="7.38" height="71.5" fill="#f1f8d6"/>
<rect x="1684.75" y="154.43" width="3.85" height="71.5" fill="#fcbf7b"/>
<rect x="1688.00" y="154.43" width="1.45" height="71.5" fill="#fcd288"/>
<rect x="1688.85" y="154.43" width="6.53" height="71.5" fill="#fef3b0"/>
<rect x="1694.78" y="154.43" width="6.95" height="71.5" fill="#fdeda5"/>
<rect x="1701.13" y="154.43" width="7.38" height="71.5" fill="#fde89d"/>
<rect x="1707.91" y="154.43" width="3.99" height="71.5" fill="#fef9b8"/>
<rect x="1711.29" y="154.43" width="3.56" height="71.5" fill="#f3f8d2"/>
<rect x="1714.26" y="154.43" width="7.38" height="71.5" fill="#fef5b3"/>
<rect x="1721.03" y="154.43" width="3.82" height="71.5" fill="#f7facb"/>
<rect x="1724.25" y="154.43" width="10.51" height="71.5" fill="#fdeda5"/>
<rect x="1734.16" y="154.43" width="6.28" height="71.5" fill="#fcbf7b"/>
<rect x="1739.84" y="154.43" width="8.48" height="71.5" fill="#fefbbc"/>
<rect x="1747.72" y="154.43" width="3.99" height="71.5" fill="#e6f4ea"/>
<rect x="1751.10" y="154.43" width="3.56" height="71.5" fill="#fef2ad"/>
<rect x="1754.07" y="154.43" width="4.16" height="71.5" fill="#fefbbc"/>
<rect x="1757.63" y="154.43" width="7.04" height="71.5" fill="#fde89d"/>
<rect x="1764.06" y="154.43" width="3.73" height="71.5" fill="#fefbbc"/>
<rect x="1767.20" y="154.43" width="3.56" height="71.5" fill="#ebf6e0"/>
<rect x="1770.16" y="154.43" width="4.41" height="71.5" fill="#fef9b8"/>
<rect x="1773.97" y="154.43" width="6.95" height="71.5" fill="#feeea8"/>
<rect x="1780.33" y="154.43" width="3.56" height="71.5" fill="#fde89d"/>
<rect x="1783.29" y="154.43" width="10.76" height="71.5" fill="#feeea8"/>
<rect x="1793.46" y="154.43" width="3.99" height="71.5" fill="#fde294"/>
<rect x="1796.84" y="154.43" width="4.41" height="71.5" fill="#fdeda5"/>
<rect x="1800.66" y="154.43" width="3.99" height="71.5" fill="#fef5b3"/>
<rect x="1804.04" y="154.43" width="6.95" height="71.5" fill="#fef2ad"/>
<rect x="1810.40" y="154.43" width="4.24" height="71.5" fill="#e1f3f3"/>
<rect x="1814.04" y="154.43" width="3.73" height="71.5" fill="#fef5b3"/>
<rect x="1817.17" y="154.43" width="3.73" height="71.5" fill="#eaf5e3"/>
<rect x="1820.31" y="154.43" width="7.21" height="71.5" fill="#fde9a0"/>
<rect x="1826.91" y="154.43" width="3.99" height="71.5" fill="#f3f8d2"/>
<rect x="1830.30" y="154.43" width="3.56" height="71.5" fill="#fdeba3"/>
<rect x="1833.27" y="154.43" width="6.95" height="71.5" fill="#fefbbc"/>
<rect x="1839.62" y="154.43" width="3.99" height="71.5" fill="#fef3b0"/>
<rect x="1843.01" y="154.43" width="7.38" height="71.5" fill="#fdeda5"/>
<rect x="1849.78" y="154.43" width="3.99" height="71.5" fill="#f5f9cf"/>
<rect x="1853.17" y="154.43" width="3.83" height="71.5" fill="#fef9b8"/>
<rect x="1357.50" y="225.56" width="10.38" height="71.5" fill="#eff7da"/>
<rect x="1367.28" y="225.56" width="3.99" height="71.5" fill="#e3f3f0"/>
<rect x="1370.67" y="225.56" width="6.95" height="71.5" fill="#fdfcbf"/>
<rect x="1377.02" y="225.56" width="6.53" height="71.5" fill="#ebf6e0"/>
<rect x="1382.95" y="225.56" width="11.61" height="71.5" fill="#fdfcbf"/>
<rect x="1393.96" y="225.56" width="3.23" height="71.5" fill="#f3f8d2"/>
<rect x="1396.59" y="225.56" width="4.58" height="71.5" fill="#e5553b"/>
<rect x="1400.57" y="225.56" width="6.70" height="71.5" fill="#e3f3f0"/>
<rect x="1406.67" y="225.56" width="3.99" height="71.5" fill="#eaf5e3"/>
<rect x="1410.06" y="225.56" width="7.38" height="71.5" fill="#fef9b8"/>
<rect x="1416.83" y="225.56" width="7.38" height="71.5" fill="#f1f8d6"/>
<rect x="1423.61" y="225.56" width="3.56" height="71.5" fill="#e5f4ed"/>
<rect x="1426.57" y="225.56" width="3.99" height="71.5" fill="#fef7b5"/>
<rect x="1429.96" y="225.56" width="3.56" height="71.5" fill="#b9d9e9"/>
<rect x="1432.93" y="225.56" width="3.99" height="71.5" fill="#fef9b8"/>
<rect x="1436.32" y="225.56" width="9.92" height="71.5" fill="#ebf6e0"/>
<rect x="1445.63" y="225.56" width="4.41" height="71.5" fill="#e1f3f3"/>
<rect x="1449.44" y="225.56" width="11.19" height="71.5" fill="#fefbbc"/>
<rect x="1460.03" y="225.56" width="3.99" height="71.5" fill="#f9fac7"/>
<rect x="1463.42" y="225.56" width="3.99" height="71.5" fill="#fefbbc"/>
<rect x="1466.81" y="225.56" width="6.95" height="71.5" fill="#edf7dd"/>
<rect x="1473.16" y="225.56" width="6.95" height="71.5" fill="#fef7b5"/>
<rect x="1479.51" y="225.56" width="7.38" height="71.5" fill="#edf7dd"/>
<rect x="1486.29" y="225.56" width="3.99" height="71.5" fill="#f7facb"/>
<rect x="1489.68" y="225.56" width="7.38" height="71.5" fill="#fefbbc"/>
<rect x="1496.45" y="225.56" width="6.95" height="71.5" fill="#f5f9cf"/>
<rect x="1502.81" y="225.56" width="6.53" height="71.5" fill="#f9fac7"/>
<rect x="1508.74" y="225.56" width="4.84" height="71.5" fill="#fef0ab"/>
<rect x="1512.97" y="225.56" width="3.56" height="71.5" fill="#f1f8d6"/>
<rect x="1515.94" y="225.56" width="4.66" height="71.5" fill="#fef5b3"/>
<rect x="1520.00" y="225.56" width="6.53" height="71.5" fill="#fef5b3"/>
<rect x="1525.93" y="225.56" width="3.82" height="71.5" fill="#f7facb"/>
<rect x="1529.15" y="225.56" width="4.16" height="71.5" fill="#fef5b3"/>
<rect x="1532.71" y="225.56" width="3.82" height="71.5" fill="#eff7da"/>
<rect x="1535.92" y="225.56" width="3.99" height="71.5" fill="#fef7b5"/>
<rect x="1539.31" y="225.56" width="3.48" height="71.5" fill="#e3f3f0"/>
<rect x="1542.19" y="225.56" width="3.82" height="71.5" fill="#fef3b0"/>
<rect x="1545.41" y="225.56" width="3.99" height="71.5" fill="#d7edf4"/>
<rect x="1548.80" y="225.56" width="6.95" height="71.5" fill="#feeea8"/>
<rect x="1555.15" y="225.56" width="3.99" height="71.5" fill="#f1f8d6"/>
<rect x="1558.54" y="225.56" width="4.41" height="71.5" fill="#fef0ab"/>
<rect x="1562.35" y="225.56" width="5.68" height="71.5" fill="#f1f8d6"/>
<rect x="1567.43" y="225.56" width="5.68" height="71.5" fill="#fdfcbf"/>
<rect x="1572.52" y="225.56" width="3.56" height="71.5" fill="#f7facb"/>
<rect x="1575.48" y="225.56" width="3.99" height="71.5" fill="#fefbbc"/>
<rect x="1578.87" y="225.56" width="3.99" height="71.5" fill="#edf7dd"/>
<rect x="1582.26" y="225.56" width="3.99" height="71.5" fill="#fef7b5"/>
<rect x="1585.65" y="225.56" width="3.99" height="71.5" fill="#d2e9f2"/>
<rect x="1589.03" y="225.56" width="6.53" height="71.5" fill="#eff7da"/>
<rect x="1594.96" y="225.56" width="7.38" height="71.5" fill="#fef9b8"/>
<rect x="1601.74" y="225.56" width="3.82" height="71.5" fill="#edf7dd"/>
<rect x="1604.96" y="225.56" width="10.51" height="71.5" fill="#fdeda5"/>
<rect x="1614.87" y="225.56" width="3.82" height="71.5" fill="#fde69b"/>
<rect x="1618.09" y="225.56" width="10.51" height="71.5" fill="#fef9b8"/>
<rect x="1628.00" y="225.56" width="4.41" height="71.5" fill="#fde89d"/>
<rect x="1631.81" y="225.56" width="3.99" height="71.5" fill="#fcb977"/>
<rect x="1635.20" y="225.56" width="3.99" height="71.5" fill="#fef5b3"/>
<rect x="1638.58" y="225.56" width="3.99" height="71.5" fill="#feeea8"/>
<rect x="1641.97" y="225.56" width="3.56" height="71.5" fill="#fef9b8"/>
<rect x="1644.94" y="225.56" width="3.99" height="71.5" fill="#fef2ad"/>
<rect x="1648.33" y="225.56" width="13.31" height="71.5" fill="#fef9b8"/>
<rect x="1661.03" y="225.56" width="4.41" height="71.5" fill="#fdeba3"/>
<rect x="1664.84" y="225.56" width="3.56" height="71.5" fill="#fef2ad"/>
<rect x="1667.81" y="225.56" width="6.95" height="71.5" fill="#feeea8"/>
<rect x="1674.16" y="225.56" width="7.38" height="71.5" fill="#fefbbc"/>
<rect x="1680.94" y="225.56" width="4.41" height="71.5" fill="#f9fac7"/>
<rect x="1684.75" y="225.56" width="3.85" height="71.5" fill="#fef5b3"/>
<rect x="1688.00" y="225.56" width="7.38" height="71.5" fill="#f9fac7"/>
<rect x="1694.78" y="225.56" width="3.99" height="71.5" fill="#fef7b5"/>
<rect x="1698.16" y="225.56" width="3.99" height="71.5" fill="#eff7da"/>
<rect x="1701.55" y="225.56" width="3.65" height="71.5" fill="#96c2dd"/>
<rect x="1704.60" y="225.56" width="13.64" height="71.5" fill="#fef9b8"/>
<rect x="1717.65" y="225.56" width="3.82" height="71.5" fill="#f9fac7"/>
<rect x="1720.86" y="225.56" width="7.12" height="71.5" fill="#fde9a0"/>
<rect x="1727.39" y="225.56" width="3.14" height="71.5" fill="#fde69b"/>
<rect x="1729.93" y="225.56" width="4.84" height="71.5" fill="#fef3b0"/>
<rect x="1734.16" y="225.56" width="3.56" height="71.5" fill="#fde294"/>
<rect x="1737.13" y="225.56" width="3.99" height="71.5" fill="#fef2ad"/>
<rect x="1740.52" y="225.56" width="3.56" height="71.5" fill="#f7facb"/>
<rect x="1743.48" y="225.56" width="4.84" height="71.5" fill="#fef0ab"/>
<rect x="1747.72" y="225.56" width="6.95" height="71.5" fill="#fef5b3"/>
<rect x="1754.07" y="225.56" width="4.16" height="71.5" fill="#fefbbc"/>
<rect x="1757.63" y="225.56" width="26.27" height="71.5" fill="#fef5b3"/>
<rect x="1783.29" y="225.56" width="3.99" height="71.5" fill="#fdeba3"/>
<rect x="1786.68" y="225.56" width="4.24" height="71.5" fill="#f7facb"/>
<rect x="1790.32" y="225.56" width="3.73" height="71.5" fill="#fbac6e"/>
<rect x="1793.46" y="225.56" width="4.41" height="71.5" fill="#fef7b5"/>
<rect x="1797.27" y="225.56" width="7.38" height="71.5" fill="#f9fac7"/>
<rect x="1804.04" y="225.56" width="26.86" height="71.5" fill="#fef8b7"/>
<rect x="1830.30" y="225.56" width="3.56" height="71.5" fill="#fdeda5"/>
<rect x="1833.27" y="225.56" width="3.56" height="71.5" fill="#fef3b0"/>
<rect x="1836.23" y="225.56" width="3.99" height="71.5" fill="#fdeda5"/>
<rect x="1839.62" y="225.56" width="3.99" height="71.5" fill="#fef5b3"/>
<rect x="1843.01" y="225.56" width="7.38" height="71.5" fill="#fdeba3"/>
<rect x="1849.78" y="225.56" width="4.16" height="71.5" fill="#ee6d48"/>
<rect x="1853.34" y="225.56" width="3.66" height="71.5" fill="#f7facb"/>
<rect x="1357.50" y="296.69" width="4.03" height="71.5" fill="#fcbf7b"/>
<rect x="1360.93" y="296.69" width="3.56" height="71.5" fill="#fefbbc"/>
<rect x="1363.89" y="296.69" width="3.99" height="71.5" fill="#ebf6e0"/>
<rect x="1367.28" y="296.69" width="3.99" height="71.5" fill="#fdd88c"/>
<rect x="1370.67" y="296.69" width="3.56" height="71.5" fill="#fef3b0"/>
<rect x="1373.63" y="296.69" width="3.99" height="71.5" fill="#fb9f66"/>
<rect x="1377.02" y="296.69" width="3.56" height="71.5" fill="#f5f9cf"/>
<rect x="1379.99" y="296.69" width="3.99" height="71.5" fill="#fef5b3"/>
<rect x="1383.38" y="296.69" width="4.41" height="71.5" fill="#f9fac7"/>
<rect x="1387.19" y="296.69" width="3.99" height="71.5" fill="#fefbbc"/>
<rect x="1390.58" y="296.69" width="3.99" height="71.5" fill="#fef0ab"/>
<rect x="1393.96" y="296.69" width="7.38" height="71.5" fill="#fefbbc"/>
<rect x="1400.74" y="296.69" width="9.92" height="71.5" fill="#fbfbc3"/>
<rect x="1410.06" y="296.69" width="4.16" height="71.5" fill="#f1f8d6"/>
<rect x="1413.61" y="296.69" width="3.82" height="71.5" fill="#feeea8"/>
<rect x="1416.83" y="296.69" width="3.99" height="71.5" fill="#f5f9cf"/>
<rect x="1420.22" y="296.69" width="3.82" height="71.5" fill="#fcb977"/>
<rect x="1423.44" y="296.69" width="3.73" height="71.5" fill="#d2e9f2"/>
<rect x="1426.57" y="296.69" width="3.99" height="71.5" fill="#fef3b0"/>
<rect x="1429.96" y="296.69" width="3.56" height="71.5" fill="#eff7da"/>
<rect x="1432.93" y="296.69" width="3.82" height="71.5" fill="#fdeda5"/>
<rect x="1436.15" y="296.69" width="4.16" height="71.5" fill="#fb9f66"/>
<rect x="1439.70" y="296.69" width="3.99" height="71.5" fill="#f1f8d6"/>
<rect x="1443.09" y="296.69" width="3.82" height="71.5" fill="#fdd88c"/>
<rect x="1446.31" y="296.69" width="4.16" height="71.5" fill="#fefbbc"/>
<rect x="1449.87" y="296.69" width="7.38" height="71.5" fill="#f9fac7"/>
<rect x="1456.64" y="296.69" width="6.95" height="71.5" fill="#ebf6e0"/>
<rect x="1463.00" y="296.69" width="13.73" height="71.5" fill="#fefaba"/>
<rect x="1476.13" y="296.69" width="3.99" height="71.5" fill="#fef0ab"/>
<rect x="1479.51" y="296.69" width="3.99" height="71.5" fill="#eaf5e3"/>
<rect x="1482.90" y="296.69" width="3.82" height="71.5" fill="#fccc83"/>
<rect x="1486.12" y="296.69" width="7.12" height="71.5" fill="#fefbbc"/>
<rect x="1492.64" y="296.69" width="6.95" height="71.5" fill="#f9fac7"/>
<rect x="1499.00" y="296.69" width="4.41" height="71.5" fill="#e1f3f3"/>
<rect x="1502.81" y="296.69" width="6.95" height="71.5" fill="#eff7da"/>
<rect x="1509.16" y="296.69" width="7.38" height="71.5" fill="#fdeda5"/>
<rect x="1515.94" y="296.69" width="4.66" height="71.5" fill="#fefbbc"/>
<rect x="1520.00" y="296.69" width="6.95" height="71.5" fill="#fefbbc"/>
<rect x="1526.35" y="296.69" width="6.95" height="71.5" fill="#feeea8"/>
<rect x="1532.71" y="296.69" width="3.82" height="71.5" fill="#f9fac7"/>
<rect x="1535.92" y="296.69" width="3.73" height="71.5" fill="#fef5b3"/>
<rect x="1539.06" y="296.69" width="3.73" height="71.5" fill="#fde294"/>
<rect x="1542.19" y="296.69" width="4.24" height="71.5" fill="#f9fac7"/>
<rect x="1545.83" y="296.69" width="6.78" height="71.5" fill="#fdeda5"/>
<rect x="1552.02" y="296.69" width="3.73" height="71.5" fill="#fef5b3"/>
<rect x="1555.15" y="296.69" width="3.99" height="71.5" fill="#feeea8"/>
<rect x="1558.54" y="296.69" width="3.99" height="71.5" fill="#fdfcbf"/>
<rect x="1561.93" y="296.69" width="4.41" height="71.5" fill="#feeea8"/>
<rect x="1565.74" y="296.69" width="3.99" height="71.5" fill="#fde89d"/>
<rect x="1569.13" y="296.69" width="6.95" height="71.5" fill="#fdeda5"/>
<rect x="1575.48" y="296.69" width="3.99" height="71.5" fill="#eff7da"/>
<rect x="1578.87" y="296.69" width="7.38" height="71.5" fill="#fef5b3"/>
<rect x="1585.65" y="296.69" width="6.95" height="71.5" fill="#fefbbc"/>
<rect x="1592.00" y="296.69" width="3.99" height="71.5" fill="#edf7dd"/>
<rect x="1595.39" y="296.69" width="6.53" height="71.5" fill="#f7facb"/>
<rect x="1601.32" y="296.69" width="7.38" height="71.5" fill="#fef9b8"/>
<rect x="1608.09" y="296.69" width="3.99" height="71.5" fill="#ebf6e0"/>
<rect x="1611.48" y="296.69" width="10.76" height="71.5" fill="#fefbbc"/>
<rect x="1621.64" y="296.69" width="6.95" height="71.5" fill="#f1f8d6"/>
<rect x="1628.00" y="296.69" width="4.58" height="71.5" fill="#fef9b8"/>
<rect x="1631.98" y="296.69" width="3.99" height="71.5" fill="#fde89d"/>
<rect x="1635.37" y="296.69" width="3.82" height="71.5" fill="#b9d9e9"/>
<rect x="1638.58" y="296.69" width="3.99" height="71.5" fill="#f9fac7"/>
<rect x="1641.97" y="296.69" width="6.95" height="71.5" fill="#fef3b0"/>
<rect x="1648.33" y="296.69" width="3.99" height="71.5" fill="#edf7dd"/>
<rect x="1651.71" y="296.69" width="13.31" height="71.5" fill="#fbfbc3"/>
<rect x="1664.42" y="296.69" width="10.34" height="71.5" fill="#feeea8"/>
<rect x="1674.16" y="296.69" width="4.41" height="71.5" fill="#fde497"/>
<rect x="1677.97" y="296.69" width="7.38" height="71.5" fill="#e3f3f0"/>
<rect x="1684.75" y="296.69" width="3.85" height="71.5" fill="#fef3b0"/>
<rect x="1688.00" y="296.69" width="1.87" height="71.5" fill="#fef5b3"/>
<rect x="1689.27" y="296.69" width="3.14" height="71.5" fill="#e8f5e7"/>
<rect x="1691.81" y="296.69" width="6.95" height="71.5" fill="#f1f8d6"/>
<rect x="1698.16" y="296.69" width="3.82" height="71.5" fill="#e5f4ed"/>
<rect x="1701.38" y="296.69" width="3.99" height="71.5" fill="#87b6d6"/>
<rect x="1704.77" y="296.69" width="3.73" height="71.5" fill="#fefbbc"/>
<rect x="1707.91" y="296.69" width="3.73" height="71.5" fill="#fdeda5"/>
<rect x="1711.04" y="296.69" width="7.21" height="71.5" fill="#fef5b3"/>
<rect x="1717.65" y="296.69" width="7.21" height="71.5" fill="#f3f8d2"/>
<rect x="1724.25" y="296.69" width="10.51" height="71.5" fill="#fef7b5"/>
<rect x="1734.16" y="296.69" width="3.56" height="71.5" fill="#fde9a0"/>
<rect x="1737.13" y="296.69" width="3.99" height="71.5" fill="#fef2ad"/>
<rect x="1740.52" y="296.69" width="3.99" height="71.5" fill="#f5f9cf"/>
<rect x="1743.90" y="296.69" width="7.80" height="71.5" fill="#fefbbc"/>
<rect x="1751.10" y="296.69" width="3.99" height="71.5" fill="#fef9b8"/>
<rect x="1754.49" y="296.69" width="3.73" height="71.5" fill="#e1f3f3"/>
<rect x="1757.63" y="296.69" width="7.04" height="71.5" fill="#fef3b0"/>
<rect x="1764.06" y="296.69" width="3.73" height="71.5" fill="#fde69b"/>
<rect x="1767.20" y="296.69" width="3.56" height="71.5" fill="#e1f3f3"/>
<rect x="1770.16" y="296.69" width="4.41" height="71.5" fill="#f7facb"/>
<rect x="1773.97" y="296.69" width="3.56" height="71.5" fill="#fdeda5"/>
<rect x="1776.94" y="296.69" width="7.38" height="71.5" fill="#fef9b8"/>
<rect x="1783.71" y="296.69" width="6.53" height="71.5" fill="#f9fac7"/>
<rect x="1789.64" y="296.69" width="4.41" height="71.5" fill="#e5f4ed"/>
<rect x="1793.46" y="296.69" width="7.80" height="71.5" fill="#fef7b5"/>
<rect x="1800.66" y="296.69" width="10.34" height="71.5" fill="#f3f8d2"/>
<rect x="1810.40" y="296.69" width="13.73" height="71.5" fill="#f5f9cf"/>
<rect x="1823.53" y="296.69" width="7.38" height="71.5" fill="#dff2f6"/>
<rect x="1830.30" y="296.69" width="9.92" height="71.5" fill="#fdeda5"/>
<rect x="1839.62" y="296.69" width="3.99" height="71.5" fill="#fef9b8"/>
<rect x="1843.01" y="296.69" width="4.41" height="71.5" fill="#fdeda5"/>
<rect x="1846.82" y="296.69" width="3.56" height="71.5" fill="#fef5b3"/>
<rect x="1849.78" y="296.69" width="3.99" height="71.5" fill="#e8f5e7"/>
<rect x="1853.17" y="296.69" width="3.83" height="71.5" fill="#fef2ad"/>
<rect x="1357.50" y="367.82" width="4.03" height="71.5" fill="#fdfcbf"/>
<rect x="1360.93" y="367.82" width="3.56" height="71.5" fill="#fdeba3"/>
<rect x="1363.89" y="367.82" width="3.99" height="71.5" fill="#eff7da"/>
<rect x="1367.28" y="367.82" width="3.99" height="71.5" fill="#fef5b3"/>
<rect x="1370.67" y="367.82" width="6.95" height="71.5" fill="#feeea8"/>
<rect x="1377.02" y="367.82" width="3.56" height="71.5" fill="#f9fac7"/>
<rect x="1379.99" y="367.82" width="3.73" height="71.5" fill="#fcc57f"/>
<rect x="1383.12" y="367.82" width="3.82" height="71.5" fill="#fef2ad"/>
<rect x="1386.34" y="367.82" width="4.41" height="71.5" fill="#eff7da"/>
<rect x="1390.15" y="367.82" width="7.38" height="71.5" fill="#fef3b0"/>
<rect x="1396.93" y="367.82" width="7.80" height="71.5" fill="#fefbbc"/>
<rect x="1404.13" y="367.82" width="6.53" height="71.5" fill="#fef7b5"/>
<rect x="1410.06" y="367.82" width="10.76" height="71.5" fill="#fefbbc"/>
<rect x="1420.22" y="367.82" width="3.82" height="71.5" fill="#fef0ab"/>
<rect x="1423.44" y="367.82" width="3.73" height="71.5" fill="#f9fac7"/>
<rect x="1426.57" y="367.82" width="6.95" height="71.5" fill="#feeea8"/>
<rect x="1432.93" y="367.82" width="3.82" height="71.5" fill="#eff7da"/>
<rect x="1436.15" y="367.82" width="7.55" height="71.5" fill="#fefbbc"/>
<rect x="1443.09" y="367.82" width="10.76" height="71.5" fill="#fde89d"/>
<rect x="1453.26" y="367.82" width="10.76" height="71.5" fill="#f9fac7"/>
<rect x="1463.42" y="367.82" width="10.34" height="71.5" fill="#fde89d"/>
<rect x="1473.16" y="367.82" width="3.99" height="71.5" fill="#e8f5e7"/>
<rect x="1476.55" y="367.82" width="6.95" height="71.5" fill="#f5f9cf"/>
<rect x="1482.90" y="367.82" width="3.82" height="71.5" fill="#fef5b3"/>
<rect x="1486.12" y="367.82" width="7.12" height="71.5" fill="#fde9a0"/>
<rect x="1492.64" y="367.82" width="3.99" height="71.5" fill="#fefbbc"/>
<rect x="1496.03" y="367.82" width="4.41" height="71.5" fill="#e1f3f3"/>
<rect x="1499.84" y="367.82" width="3.99" height="71.5" fill="#f1f8d6"/>
<rect x="1503.23" y="367.82" width="10.76" height="71.5" fill="#fefbbc"/>
<rect x="1513.40" y="367.82" width="7.20" height="71.5" fill="#feeea8"/>
<rect x="1520.00" y="367.82" width="3.56" height="71.5" fill="#fdeda5"/>
<rect x="1522.96" y="367.82" width="10.34" height="71.5" fill="#fef5b3"/>
<rect x="1532.71" y="367.82" width="3.82" height="71.5" fill="#fdeda5"/>
<rect x="1535.92" y="367.82" width="3.73" height="71.5" fill="#f7facb"/>
<rect x="1539.06" y="367.82" width="3.73" height="71.5" fill="#fdeba3"/>
<rect x="1542.19" y="367.82" width="7.21" height="71.5" fill="#fef5b3"/>
<rect x="1548.80" y="367.82" width="3.82" height="71.5" fill="#f7facb"/>
<rect x="1552.02" y="367.82" width="3.73" height="71.5" fill="#fdeba3"/>
<rect x="1555.15" y="367.82" width="3.99" height="71.5" fill="#fde497"/>
<rect x="1558.54" y="367.82" width="4.41" height="71.5" fill="#eaf5e3"/>
<rect x="1562.35" y="367.82" width="7.38" height="71.5" fill="#fef5b3"/>
<rect x="1569.13" y="367.82" width="6.95" height="71.5" fill="#fbfbc3"/>
<rect x="1575.48" y="367.82" width="7.38" height="71.5" fill="#fef9b8"/>
<rect x="1582.26" y="367.82" width="7.38" height="71.5" fill="#fbfbc3"/>
<rect x="1589.03" y="367.82" width="3.56" height="71.5" fill="#fde89d"/>
<rect x="1592.00" y="367.82" width="3.99" height="71.5" fill="#fef7b5"/>
<rect x="1595.39" y="367.82" width="3.99" height="71.5" fill="#eff7da"/>
<rect x="1598.77" y="367.82" width="6.78" height="71.5" fill="#fefbbc"/>
<rect x="1604.96" y="367.82" width="3.73" height="71.5" fill="#f9fac7"/>
<rect x="1608.09" y="367.82" width="4.84" height="71.5" fill="#fef3b0"/>
<rect x="1612.33" y="367.82" width="3.56" height="71.5" fill="#fbfbc3"/>
<rect x="1615.29" y="367.82" width="3.56" height="71.5" fill="#feeea8"/>
<rect x="1618.26" y="367.82" width="7.38" height="71.5" fill="#fefbbc"/>
<rect x="1625.03" y="367.82" width="4.84" height="71.5" fill="#e8f5e7"/>
<rect x="1629.27" y="367.82" width="3.99" height="71.5" fill="#f3f8d2"/>
<rect x="1632.66" y="367.82" width="3.31" height="71.5" fill="#fefbbc"/>
<rect x="1635.37" y="367.82" width="3.99" height="71.5" fill="#5282bb"/>
<rect x="1638.75" y="367.82" width="3.82" height="71.5" fill="#fef7b5"/>
<rect x="1641.97" y="367.82" width="3.56" height="71.5" fill="#eaf5e3"/>
<rect x="1644.94" y="367.82" width="7.38" height="71.5" fill="#fbfbc3"/>
<rect x="1651.71" y="367.82" width="6.95" height="71.5" fill="#fefbbc"/>
<rect x="1658.07" y="367.82" width="3.99" height="71.5" fill="#f7facb"/>
<rect x="1661.45" y="367.82" width="3.99" height="71.5" fill="#fef7b5"/>
<rect x="1664.84" y="367.82" width="6.53" height="71.5" fill="#f9fac7"/>
<rect x="1670.77" y="367.82" width="3.99" height="71.5" fill="#edf7dd"/>
<rect x="1674.16" y="367.82" width="4.41" height="71.5" fill="#fefbbc"/>
<rect x="1677.97" y="367.82" width="3.99" height="71.5" fill="#eff7da"/>
<rect x="1681.36" y="367.82" width="7.24" height="71.5" fill="#fef5b3"/>
<rect x="1688.00" y="367.82" width="10.76" height="71.5" fill="#fef7b5"/>
<rect x="1698.16" y="367.82" width="3.82" height="71.5" fill="#eff7da"/>
<rect x="1701.38" y="367.82" width="3.99" height="71.5" fill="#b9d9e9"/>
<rect x="1704.77" y="367.82" width="3.73" height="71.5" fill="#fdeda5"/>
<rect x="1707.91" y="367.82" width="3.73" height="71.5" fill="#fef5b3"/>
<rect x="1711.04" y="367.82" width="3.82" height="71.5" fill="#dcf0f6"/>
<rect x="1714.26" y="367.82" width="3.82" height="71.5" fill="#eaf5e3"/>
<rect x="1717.48" y="367.82" width="3.73" height="71.5" fill="#d2e9f2"/>
<rect x="1720.61" y="367.82" width="4.24" height="71.5" fill="#fef9b8"/>
<rect x="1724.25" y="367.82" width="3.73" height="71.5" fill="#e3f3f0"/>
<rect x="1727.39" y="367.82" width="3.56" height="71.5" fill="#fef2ad"/>
<rect x="1730.35" y="367.82" width="3.99" height="71.5" fill="#fefbbc"/>
<rect x="1733.74" y="367.82" width="4.41" height="71.5" fill="#f5f9cf"/>
<rect x="1737.55" y="367.82" width="3.56" height="71.5" fill="#feeea8"/>
<rect x="1740.52" y="367.82" width="7.80" height="71.5" fill="#f9fac7"/>
<rect x="1747.72" y="367.82" width="3.99" height="71.5" fill="#d2e9f2"/>
<rect x="1751.10" y="367.82" width="3.99" height="71.5" fill="#fdeba3"/>
<rect x="1754.49" y="367.82" width="3.73" height="71.5" fill="#f1f8d6"/>
<rect x="1757.63" y="367.82" width="10.17" height="71.5" fill="#fef9b8"/>
<rect x="1767.20" y="367.82" width="3.56" height="71.5" fill="#e6f4ea"/>
<rect x="1770.16" y="367.82" width="4.41" height="71.5" fill="#fefbbc"/>
<rect x="1773.97" y="367.82" width="3.56" height="71.5" fill="#fde294"/>
<rect x="1776.94" y="367.82" width="10.76" height="71.5" fill="#fbfbc3"/>
<rect x="1787.10" y="367.82" width="3.99" height="71.5" fill="#e6f4ea"/>
<rect x="1790.49" y="367.82" width="3.56" height="71.5" fill="#f3f8d2"/>
<rect x="1793.46" y="367.82" width="3.99" height="71.5" fill="#fdeda5"/>
<rect x="1796.84" y="367.82" width="7.80" height="71.5" fill="#fefbbc"/>
<rect x="1804.04" y="367.82" width="6.95" height="71.5" fill="#fef2ad"/>
<rect x="1810.40" y="367.82" width="4.24" height="71.5" fill="#f5f9cf"/>
<rect x="1814.04" y="367.82" width="3.73" height="71.5" fill="#feeea8"/>
<rect x="1817.17" y="367.82" width="3.73" height="71.5" fill="#f7facb"/>
<rect x="1820.31" y="367.82" width="3.82" height="71.5" fill="#fef3b0"/>
<rect x="1823.53" y="367.82" width="3.99" height="71.5" fill="#82b1d4"/>
<rect x="1826.91" y="367.82" width="3.99" height="71.5" fill="#e6f4ea"/>
<rect x="1830.30" y="367.82" width="3.56" height="71.5" fill="#feeea8"/>
<rect x="1833.27" y="367.82" width="3.56" height="71.5" fill="#f5f9cf"/>
<rect x="1836.23" y="367.82" width="10.76" height="71.5" fill="#fef9b8"/>
<rect x="1846.40" y="367.82" width="3.99" height="71.5" fill="#fef2ad"/>
<rect x="1849.78" y="367.82" width="7.22" height="71.5" fill="#ebf6e0"/>
<rect x="1357.50" y="438.95" width="4.03" height="71.1" fill="#fa935d"/>
<rect x="1360.93" y="438.95" width="3.56" height="71.1" fill="#fef2ad"/>
<rect x="1363.89" y="438.95" width="3.99" height="71.1" fill="#f7facb"/>
<rect x="1367.28" y="438.95" width="10.34" height="71.1" fill="#fdeda5"/>
<rect x="1377.02" y="438.95" width="3.56" height="71.1" fill="#fef3b0"/>
<rect x="1379.99" y="438.95" width="3.73" height="71.1" fill="#fdeba3"/>
<rect x="1383.12" y="438.95" width="4.24" height="71.1" fill="#f7facb"/>
<rect x="1386.76" y="438.95" width="3.99" height="71.1" fill="#fef7b5"/>
<rect x="1390.15" y="438.95" width="3.99" height="71.1" fill="#fde69b"/>
<rect x="1393.54" y="438.95" width="3.99" height="71.1" fill="#feeea8"/>
<rect x="1396.93" y="438.95" width="7.80" height="71.1" fill="#fef9b8"/>
<rect x="1404.13" y="438.95" width="3.56" height="71.1" fill="#ebf6e0"/>
<rect x="1407.09" y="438.95" width="7.12" height="71.1" fill="#fef2ad"/>
<rect x="1413.61" y="438.95" width="3.99" height="71.1" fill="#fde89d"/>
<rect x="1417.00" y="438.95" width="3.82" height="71.1" fill="#fef3b0"/>
<rect x="1420.22" y="438.95" width="3.82" height="71.1" fill="#fdeba3"/>
<rect x="1423.44" y="438.95" width="3.99" height="71.1" fill="#eaf5e3"/>
<rect x="1426.83" y="438.95" width="6.70" height="71.1" fill="#f7facb"/>
<rect x="1432.93" y="438.95" width="7.38" height="71.1" fill="#fef2ad"/>
<rect x="1439.70" y="438.95" width="3.99" height="71.1" fill="#f5f9cf"/>
<rect x="1443.09" y="438.95" width="10.76" height="71.1" fill="#fef7b5"/>
<rect x="1453.26" y="438.95" width="7.38" height="71.1" fill="#fefbbc"/>
<rect x="1460.03" y="438.95" width="3.99" height="71.1" fill="#f3f8d2"/>
<rect x="1463.42" y="438.95" width="3.99" height="71.1" fill="#fef5b3"/>
<rect x="1466.81" y="438.95" width="9.92" height="71.1" fill="#feeea8"/>
<rect x="1476.13" y="438.95" width="3.99" height="71.1" fill="#fef7b5"/>
<rect x="1479.51" y="438.95" width="3.99" height="71.1" fill="#f7facb"/>
<rect x="1482.90" y="438.95" width="3.82" height="71.1" fill="#fde69b"/>
<rect x="1486.12" y="438.95" width="4.16" height="71.1" fill="#fdeda5"/>
<rect x="1489.68" y="438.95" width="9.92" height="71.1" fill="#fef9b8"/>
<rect x="1499.00" y="438.95" width="10.76" height="71.1" fill="#edf7dd"/>
<rect x="1509.16" y="438.95" width="7.38" height="71.1" fill="#fef2ad"/>
<rect x="1515.94" y="438.95" width="4.66" height="71.1" fill="#f7facb"/>
<rect x="1520.00" y="438.95" width="3.56" height="71.1" fill="#f7facb"/>
<rect x="1522.96" y="438.95" width="3.56" height="71.1" fill="#fefbbc"/>
<rect x="1525.93" y="438.95" width="10.60" height="71.1" fill="#fdeda5"/>
<rect x="1535.92" y="438.95" width="3.73" height="71.1" fill="#fefbbc"/>
<rect x="1539.06" y="438.95" width="3.73" height="71.1" fill="#fdeba3"/>
<rect x="1542.19" y="438.95" width="3.99" height="71.1" fill="#fef9b8"/>
<rect x="1545.58" y="438.95" width="3.82" height="71.1" fill="#fcbf7b"/>
<rect x="1548.80" y="438.95" width="3.99" height="71.1" fill="#fefbbc"/>
<rect x="1552.19" y="438.95" width="3.56" height="71.1" fill="#fef3b0"/>
<rect x="1555.15" y="438.95" width="3.99" height="71.1" fill="#fde89d"/>
<rect x="1558.54" y="438.95" width="3.99" height="71.1" fill="#fefbbc"/>
<rect x="1561.93" y="438.95" width="7.80" height="71.1" fill="#fef0ab"/>
<rect x="1569.13" y="438.95" width="3.99" height="71.1" fill="#fef2ad"/>
<rect x="1572.52" y="438.95" width="3.99" height="71.1" fill="#fdeba3"/>
<rect x="1575.90" y="438.95" width="3.56" height="71.1" fill="#fef2ad"/>
<rect x="1578.87" y="438.95" width="3.99" height="71.1" fill="#fddf90"/>
<rect x="1582.26" y="438.95" width="3.99" height="71.1" fill="#f1f8d6"/>
<rect x="1585.65" y="438.95" width="6.95" height="71.1" fill="#fef2ad"/>
<rect x="1592.00" y="438.95" width="3.99" height="71.1" fill="#fde89d"/>
<rect x="1595.39" y="438.95" width="3.99" height="71.1" fill="#fef3b0"/>
<rect x="1598.77" y="438.95" width="6.78" height="71.1" fill="#fdeba3"/>
<rect x="1604.96" y="438.95" width="3.73" height="71.1" fill="#ebf6e0"/>
<rect x="1608.09" y="438.95" width="7.80" height="71.1" fill="#fefbbc"/>
<rect x="1615.29" y="438.95" width="10.34" height="71.1" fill="#fef9b8"/>
<rect x="1625.03" y="438.95" width="4.41" height="71.1" fill="#e5f4ed"/>
<rect x="1628.84" y="438.95" width="3.99" height="71.1" fill="#f5f9cf"/>
<rect x="1632.23" y="438.95" width="3.73" height="71.1" fill="#eff7da"/>
<rect x="1635.37" y="438.95" width="3.99" height="71.1" fill="#9bc6df"/>
<rect x="1638.75" y="438.95" width="3.82" height="71.1" fill="#fef5b3"/>
<rect x="1641.97" y="438.95" width="3.56" height="71.1" fill="#eff7da"/>
<rect x="1644.94" y="438.95" width="3.99" height="71.1" fill="#fef5b3"/>
<rect x="1648.33" y="438.95" width="3.99" height="71.1" fill="#f9fac7"/>
<rect x="1651.71" y="438.95" width="6.95" height="71.1" fill="#feeea8"/>
<rect x="1658.07" y="438.95" width="3.99" height="71.1" fill="#f5f9cf"/>
<rect x="1661.45" y="438.95" width="9.92" height="71.1" fill="#fefbbc"/>
<rect x="1670.77" y="438.95" width="3.99" height="71.1" fill="#edf7dd"/>
<rect x="1674.16" y="438.95" width="4.84" height="71.1" fill="#fde89d"/>
<rect x="1678.40" y="438.95" width="6.95" height="71.1" fill="#f1f8d6"/>
<rect x="1684.75" y="438.95" width="3.85" height="71.1" fill="#fdeba3"/>
<rect x="1688.00" y="438.95" width="1.87" height="71.1" fill="#fef2ad"/>
<rect x="1689.27" y="438.95" width="3.14" height="71.1" fill="#f5f9cf"/>
<rect x="1691.81" y="438.95" width="9.92" height="71.1" fill="#fefbbc"/>
<rect x="1701.13" y="438.95" width="4.24" height="71.1" fill="#91bfdb"/>
<rect x="1704.77" y="438.95" width="3.73" height="71.1" fill="#fdeba3"/>
<rect x="1707.91" y="438.95" width="6.95" height="71.1" fill="#fef9b8"/>
<rect x="1714.26" y="438.95" width="3.82" height="71.1" fill="#e3f3f0"/>
<rect x="1717.48" y="438.95" width="3.73" height="71.1" fill="#f7facb"/>
<rect x="1720.61" y="438.95" width="4.24" height="71.1" fill="#fef5b3"/>
<rect x="1724.25" y="438.95" width="3.73" height="71.1" fill="#eaf5e3"/>
<rect x="1727.39" y="438.95" width="7.38" height="71.1" fill="#fef5b3"/>
<rect x="1734.16" y="438.95" width="3.99" height="71.1" fill="#f3f8d2"/>
<rect x="1737.55" y="438.95" width="3.56" height="71.1" fill="#fde9a0"/>
<rect x="1740.52" y="438.95" width="11.19" height="71.1" fill="#ebf6e0"/>
<rect x="1751.10" y="438.95" width="3.99" height="71.1" fill="#fef5b3"/>
<rect x="1754.49" y="438.95" width="3.73" height="71.1" fill="#e1f3f3"/>
<rect x="1757.63" y="438.95" width="3.82" height="71.1" fill="#fde69b"/>
<rect x="1760.85" y="438.95" width="6.95" height="71.1" fill="#fbfbc3"/>
<rect x="1767.20" y="438.95" width="3.73" height="71.1" fill="#cde6f0"/>
<rect x="1770.33" y="438.95" width="4.24" height="71.1" fill="#fefbbc"/>
<rect x="1773.97" y="438.95" width="13.31" height="71.1" fill="#fef2ad"/>
<rect x="1786.68" y="438.95" width="7.38" height="71.1" fill="#ebf6e0"/>
<rect x="1793.46" y="438.95" width="7.80" height="71.1" fill="#f9fac7"/>
<rect x="1800.66" y="438.95" width="10.34" height="71.1" fill="#fef9b8"/>
<rect x="1810.40" y="438.95" width="4.24" height="71.1" fill="#eaf5e3"/>
<rect x="1814.04" y="438.95" width="3.73" height="71.1" fill="#fef7b5"/>
<rect x="1817.17" y="438.95" width="3.73" height="71.1" fill="#e6f4ea"/>
<rect x="1820.31" y="438.95" width="3.82" height="71.1" fill="#fef5b3"/>
<rect x="1823.53" y="438.95" width="3.99" height="71.1" fill="#aacfe4"/>
<rect x="1826.91" y="438.95" width="3.82" height="71.1" fill="#bedceb"/>
<rect x="1830.13" y="438.95" width="10.09" height="71.1" fill="#fbfbc3"/>
<rect x="1839.62" y="438.95" width="7.38" height="71.1" fill="#fefbbc"/>
<rect x="1846.40" y="438.95" width="4.41" height="71.1" fill="#fef5b3"/>
<rect x="1850.21" y="438.95" width="6.79" height="71.1" fill="#ebf6e0"/>
</g>
<text x="1860.0" y="50.900000000000006" font-size="11.6" class="b">N_stage</text>
<text x="1860.0" y="65.39999999999999" font-size="11.6" class="b">Fustat</text>
<text x="1860.0" y="79.1" font-size="11.6" class="b">Risk</text>
<text x="1860.0" y="123.8" font-size="13.8" class="s">PLAC9</text>
<text x="1860.0" y="194.93" font-size="13.8" class="s">SELM</text>
<text x="1860.0" y="266.06" font-size="13.8" class="s">SOD3</text>
<text x="1860.0" y="337.19" font-size="13.8" class="s">CAV1</text>
<text x="1860.0" y="408.32" font-size="13.8" class="s">IGFBP3</text>
<text x="1860.0" y="479.45" font-size="13.8" class="s">PLAU</text>
<linearGradient id="gC" x1="0" y1="0" x2="0" y2="1"><stop offset="0.0000" stop-color="#d73027"/><stop offset="0.1667" stop-color="#fa8e5a"/><stop offset="0.3333" stop-color="#fde091"/><stop offset="0.5000" stop-color="#fefcbe"/><stop offset="0.6667" stop-color="#dff2f7"/><stop offset="0.8333" stop-color="#91bfdb"/><stop offset="1.0000" stop-color="#4575b4"/></linearGradient>
<rect x="1917.0" y="39.3" width="12.3" height="173.7" fill="url(#gC)"/>
<text x="1934.3" y="57.3" font-size="10.5" class="s">4</text>
<text x="1934.3" y="94.2" font-size="10.5" class="s">2</text>
<text x="1934.3" y="130.8" font-size="10.5" class="s">0</text>
<text x="1934.3" y="167.2" font-size="10.5" class="s">−2</text>
<text x="1934.3" y="203.6" font-size="10.5" class="s">−4</text>
<text x="1950.7" y="48.5" font-size="11.5" class="b">N_stage</text>
<rect x="1950.6" y="52.5" width="16.7" height="16.7" fill="#3fae5a"/>
<text x="1970.6" y="64.7" font-size="10.9" class="s">N0</text>
<rect x="1950.6" y="69" width="16.7" height="16.7" fill="#8db4e2"/>
<text x="1970.6" y="81.2" font-size="10.9" class="s">N1</text>
<text x="1950.7" y="106" font-size="11.5" class="b">Fustat</text>
<rect x="1950.6" y="110" width="16.7" height="16.7" fill="#d9b700"/>
<text x="1970.6" y="122.2" font-size="10.9" class="s">Alive</text>
<rect x="1950.6" y="126.5" width="16.7" height="16.7" fill="#4fbfc8"/>
<text x="1970.6" y="138.7" font-size="10.9" class="s">Dead</text>
<text x="1950.7" y="164" font-size="11.5" class="b">Risk</text>
<rect x="1950.6" y="168" width="16.7" height="16.7" fill="#cc8fc0"/>
<text x="1970.6" y="180.2" font-size="10.9" class="s">High</text>
<rect x="1950.6" y="184.5" width="16.7" height="16.7" fill="#f28e86"/>
<text x="1970.6" y="196.7" font-size="10.9" class="s">Low</text>
<text x="1607" y="550" font-size="15" class="b" text-anchor="middle">ICGC Heatmap</text>
<text x="1301.7" y="560.5" font-size="49.3" class="f">F</text>
<filter id="blF" filterUnits="userSpaceOnUse" x="1351.5" y="553.5" width="512.9000000000001" height="481.02"><feGaussianBlur stdDeviation="0.5 0.3"/></filter>
<g filter="url(#blF)">
<rect x="1357.51" y="559.5" width="6.25" height="12.2" fill="#f59d38"/>
<rect x="1363.16" y="559.5" width="60.49" height="12.2" fill="#4cb782"/>
<rect x="1423.05" y="559.5" width="6.00" height="12.2" fill="#f59d38"/>
<rect x="1428.45" y="559.5" width="13.16" height="12.2" fill="#4cb782"/>
<rect x="1441.01" y="559.5" width="6.25" height="12.2" fill="#f59d38"/>
<rect x="1446.66" y="559.5" width="6.25" height="12.2" fill="#4cb782"/>
<rect x="1452.31" y="559.5" width="6.88" height="12.2" fill="#f59d38"/>
<rect x="1458.59" y="559.5" width="7.25" height="12.2" fill="#4cb782"/>
<rect x="1465.24" y="559.5" width="5.62" height="12.2" fill="#f59d38"/>
<rect x="1470.26" y="559.5" width="48.56" height="12.2" fill="#4cb782"/>
<rect x="1518.23" y="559.5" width="18.18" height="12.2" fill="#f59d38"/>
<rect x="1535.81" y="559.5" width="13.41" height="12.2" fill="#4cb782"/>
<rect x="1548.61" y="559.5" width="5.62" height="12.2" fill="#f59d38"/>
<rect x="1553.64" y="559.5" width="31.11" height="12.2" fill="#4cb782"/>
<rect x="1584.15" y="559.5" width="6.00" height="12.2" fill="#f59d38"/>
<rect x="1589.55" y="559.5" width="12.78" height="12.2" fill="#4cb782"/>
<rect x="1601.73" y="559.5" width="6.88" height="12.2" fill="#f59d38"/>
<rect x="1608.00" y="559.5" width="12.15" height="12.2" fill="#4cb782"/>
<rect x="1619.56" y="559.5" width="6.88" height="12.2" fill="#f59d38"/>
<rect x="1625.83" y="559.5" width="11.90" height="12.2" fill="#4cb782"/>
<rect x="1637.13" y="559.5" width="7.13" height="12.2" fill="#f59d38"/>
<rect x="1643.66" y="559.5" width="11.90" height="12.2" fill="#4cb782"/>
<rect x="1654.96" y="559.5" width="13.16" height="12.2" fill="#f59d38"/>
<rect x="1667.52" y="559.5" width="12.28" height="12.2" fill="#4cb782"/>
<rect x="1679.20" y="559.5" width="12.28" height="12.2" fill="#f59d38"/>
<rect x="1690.87" y="559.5" width="19.06" height="12.2" fill="#4cb782"/>
<rect x="1709.33" y="559.5" width="6.00" height="12.2" fill="#f59d38"/>
<rect x="1714.73" y="559.5" width="6.88" height="12.2" fill="#4cb782"/>
<rect x="1721.01" y="559.5" width="6.50" height="12.2" fill="#f59d38"/>
<rect x="1726.91" y="559.5" width="6.88" height="12.2" fill="#4cb782"/>
<rect x="1733.19" y="559.5" width="6.00" height="12.2" fill="#f59d38"/>
<rect x="1738.59" y="559.5" width="18.43" height="12.2" fill="#4cb782"/>
<rect x="1756.42" y="559.5" width="6.88" height="12.2" fill="#f59d38"/>
<rect x="1762.70" y="559.5" width="24.46" height="12.2" fill="#4cb782"/>
<rect x="1786.55" y="559.5" width="6.63" height="12.2" fill="#f59d38"/>
<rect x="1792.58" y="559.5" width="18.68" height="12.2" fill="#4cb782"/>
<rect x="1810.66" y="559.5" width="6.38" height="12.2" fill="#f59d38"/>
<rect x="1816.43" y="559.5" width="12.78" height="12.2" fill="#4cb782"/>
<rect x="1828.61" y="559.5" width="6.25" height="12.2" fill="#f59d38"/>
<rect x="1834.26" y="559.5" width="6.63" height="12.2" fill="#4cb782"/>
<rect x="1840.29" y="559.5" width="12.78" height="12.2" fill="#f59d38"/>
<rect x="1852.47" y="559.5" width="5.93" height="12.2" fill="#4cb782"/>
<rect x="1357.50" y="573.3" width="24.72" height="12.1" fill="#d9b50a"/>
<rect x="1381.62" y="573.3" width="5.62" height="12.1" fill="#4fbfb8"/>
<rect x="1386.64" y="573.3" width="36.76" height="12.1" fill="#d9b50a"/>
<rect x="1422.80" y="573.3" width="6.63" height="12.1" fill="#5fb83c"/>
<rect x="1428.83" y="573.3" width="6.50" height="12.1" fill="#4fbfb8"/>
<rect x="1434.73" y="573.3" width="90.12" height="12.1" fill="#d9b50a"/>
<rect x="1524.26" y="573.3" width="7.13" height="12.1" fill="#5fb83c"/>
<rect x="1530.78" y="573.3" width="106.95" height="12.1" fill="#d9b50a"/>
<rect x="1637.13" y="573.3" width="7.13" height="12.1" fill="#cc8fc2"/>
<rect x="1643.66" y="573.3" width="29.86" height="12.1" fill="#d9b50a"/>
<rect x="1672.92" y="573.3" width="6.88" height="12.1" fill="#5fb83c"/>
<rect x="1679.20" y="573.3" width="6.50" height="12.1" fill="#d9b50a"/>
<rect x="1685.10" y="573.3" width="6.88" height="12.1" fill="#5fb83c"/>
<rect x="1691.38" y="573.3" width="12.28" height="12.1" fill="#d9b50a"/>
<rect x="1703.05" y="573.3" width="6.88" height="12.1" fill="#5fb83c"/>
<rect x="1709.33" y="573.3" width="47.69" height="12.1" fill="#d9b50a"/>
<rect x="1756.42" y="573.3" width="6.88" height="12.1" fill="#5fb83c"/>
<rect x="1762.70" y="573.3" width="48.56" height="12.1" fill="#d9b50a"/>
<rect x="1810.66" y="573.3" width="6.38" height="12.1" fill="#5fb83c"/>
<rect x="1816.43" y="573.3" width="6.12" height="12.1" fill="#d9b50a"/>
<rect x="1821.96" y="573.3" width="7.25" height="12.1" fill="#5fb83c"/>
<rect x="1828.61" y="573.3" width="29.79" height="12.1" fill="#d9b50a"/>
<rect x="1357.51" y="587.2" width="6.25" height="12.0" fill="#a6a8d8"/>
<rect x="1363.16" y="587.2" width="12.53" height="12.0" fill="#ec82b4"/>
<rect x="1375.09" y="587.2" width="7.13" height="12.0" fill="#a6a8d8"/>
<rect x="1381.62" y="587.2" width="11.90" height="12.0" fill="#ec82b4"/>
<rect x="1392.92" y="587.2" width="12.28" height="12.0" fill="#a6a8d8"/>
<rect x="1404.60" y="587.2" width="12.78" height="12.0" fill="#ec82b4"/>
<rect x="1416.78" y="587.2" width="18.56" height="12.0" fill="#a6a8d8"/>
<rect x="1434.73" y="587.2" width="24.83" height="12.0" fill="#ec82b4"/>
<rect x="1458.96" y="587.2" width="11.90" height="12.0" fill="#a6a8d8"/>
<rect x="1470.26" y="587.2" width="13.16" height="12.0" fill="#ec82b4"/>
<rect x="1482.82" y="587.2" width="6.12" height="12.0" fill="#a6a8d8"/>
<rect x="1488.35" y="587.2" width="6.63" height="12.0" fill="#ec82b4"/>
<rect x="1494.37" y="587.2" width="24.46" height="12.0" fill="#a6a8d8"/>
<rect x="1518.23" y="587.2" width="6.63" height="12.0" fill="#ec82b4"/>
<rect x="1524.26" y="587.2" width="6.88" height="12.0" fill="#a6a8d8"/>
<rect x="1530.53" y="587.2" width="18.68" height="12.0" fill="#ec82b4"/>
<rect x="1548.61" y="587.2" width="5.62" height="12.0" fill="#a6a8d8"/>
<rect x="1553.64" y="587.2" width="7.25" height="12.0" fill="#ec82b4"/>
<rect x="1560.29" y="587.2" width="6.50" height="12.0" fill="#a6a8d8"/>
<rect x="1566.19" y="587.2" width="6.38" height="12.0" fill="#ec82b4"/>
<rect x="1571.97" y="587.2" width="12.78" height="12.0" fill="#a6a8d8"/>
<rect x="1584.15" y="587.2" width="42.29" height="12.0" fill="#ec82b4"/>
<rect x="1625.83" y="587.2" width="6.63" height="12.0" fill="#a6a8d8"/>
<rect x="1631.86" y="587.2" width="5.87" height="12.0" fill="#ec82b4"/>
<rect x="1637.13" y="587.2" width="7.13" height="12.0" fill="#3fc0e4"/>
<rect x="1643.66" y="587.2" width="6.88" height="12.0" fill="#a6a8d8"/>
<rect x="1649.94" y="587.2" width="5.62" height="12.0" fill="#ec82b4"/>
<rect x="1654.96" y="587.2" width="6.88" height="12.0" fill="#a6a8d8"/>
<rect x="1661.24" y="587.2" width="6.88" height="12.0" fill="#ec82b4"/>
<rect x="1667.52" y="587.2" width="12.28" height="12.0" fill="#a6a8d8"/>
<rect x="1679.20" y="587.2" width="6.50" height="12.0" fill="#ec82b4"/>
<rect x="1685.10" y="587.2" width="6.88" height="12.0" fill="#a6a8d8"/>
<rect x="1691.38" y="587.2" width="12.28" height="12.0" fill="#ec82b4"/>
<rect x="1703.05" y="587.2" width="6.88" height="12.0" fill="#a6a8d8"/>
<rect x="1709.33" y="587.2" width="42.03" height="12.0" fill="#ec82b4"/>
<rect x="1750.77" y="587.2" width="6.25" height="12.0" fill="#a6a8d8"/>
<rect x="1756.42" y="587.2" width="18.81" height="12.0" fill="#ec82b4"/>
<rect x="1774.62" y="587.2" width="6.50" height="12.0" fill="#a6a8d8"/>
<rect x="1780.52" y="587.2" width="12.65" height="12.0" fill="#ec82b4"/>
<rect x="1792.58" y="587.2" width="6.50" height="12.0" fill="#a6a8d8"/>
<rect x="1798.48" y="587.2" width="6.50" height="12.0" fill="#ec82b4"/>
<rect x="1804.38" y="587.2" width="6.88" height="12.0" fill="#a6a8d8"/>
<rect x="1810.66" y="587.2" width="6.38" height="12.0" fill="#ec82b4"/>
<rect x="1816.43" y="587.2" width="6.12" height="12.0" fill="#a6a8d8"/>
<rect x="1821.96" y="587.2" width="18.93" height="12.0" fill="#ec82b4"/>
<rect x="1840.29" y="587.2" width="6.50" height="12.0" fill="#3fc0e4"/>
<rect x="1846.19" y="587.2" width="12.21" height="12.0" fill="#ec82b4"/>
<rect x="1357.50" y="601.0" width="18.19" height="12.1" fill="#c896c8"/>
<rect x="1375.09" y="601.0" width="7.13" height="12.1" fill="#a4c411"/>
<rect x="1381.62" y="601.0" width="23.58" height="12.1" fill="#c896c8"/>
<rect x="1404.60" y="601.0" width="12.78" height="12.1" fill="#a4c411"/>
<rect x="1416.78" y="601.0" width="6.63" height="12.1" fill="#c896c8"/>
<rect x="1422.80" y="601.0" width="6.63" height="12.1" fill="#a4c411"/>
<rect x="1428.83" y="601.0" width="18.43" height="12.1" fill="#c896c8"/>
<rect x="1446.66" y="601.0" width="6.25" height="12.1" fill="#a4c411"/>
<rect x="1452.31" y="601.0" width="13.53" height="12.1" fill="#c896c8"/>
<rect x="1465.24" y="601.0" width="5.62" height="12.1" fill="#a4c411"/>
<rect x="1470.26" y="601.0" width="54.59" height="12.1" fill="#c896c8"/>
<rect x="1524.26" y="601.0" width="7.13" height="12.1" fill="#a4c411"/>
<rect x="1530.78" y="601.0" width="41.41" height="12.1" fill="#c896c8"/>
<rect x="1571.59" y="601.0" width="54.84" height="12.1" fill="#a4c411"/>
<rect x="1625.83" y="601.0" width="53.96" height="12.1" fill="#c896c8"/>
<rect x="1679.20" y="601.0" width="18.56" height="12.1" fill="#a4c411"/>
<rect x="1697.15" y="601.0" width="6.50" height="12.1" fill="#c896c8"/>
<rect x="1703.05" y="601.0" width="12.53" height="12.1" fill="#a4c411"/>
<rect x="1714.98" y="601.0" width="6.25" height="12.1" fill="#c896c8"/>
<rect x="1720.63" y="601.0" width="24.83" height="12.1" fill="#a4c411"/>
<rect x="1744.87" y="601.0" width="12.15" height="12.1" fill="#c896c8"/>
<rect x="1756.42" y="601.0" width="13.16" height="12.1" fill="#a4c411"/>
<rect x="1768.97" y="601.0" width="18.18" height="12.1" fill="#c896c8"/>
<rect x="1786.55" y="601.0" width="6.88" height="12.1" fill="#a4c411"/>
<rect x="1792.83" y="601.0" width="24.21" height="12.1" fill="#c896c8"/>
<rect x="1816.43" y="601.0" width="6.12" height="12.1" fill="#a4c411"/>
<rect x="1821.96" y="601.0" width="12.90" height="12.1" fill="#c896c8"/>
<rect x="1834.26" y="601.0" width="18.81" height="12.1" fill="#a4c411"/>
<rect x="1852.47" y="601.0" width="5.93" height="12.1" fill="#c896c8"/>
<rect x="1357.50" y="614.9" width="191.50" height="11.9" fill="#f28f88"/>
<rect x="1548.40" y="614.9" width="310.00" height="11.9" fill="#3dbcf0"/>
<rect x="1357.50" y="630.0" width="6.26" height="66.82000000000001" fill="#fdfcbf"/>
<rect x="1363.16" y="630.0" width="6.25" height="66.82000000000001" fill="#c8e3ef"/>
<rect x="1368.81" y="630.0" width="6.88" height="66.82000000000001" fill="#fefbbc"/>
<rect x="1375.09" y="630.0" width="7.13" height="66.82000000000001" fill="#fef0ab"/>
<rect x="1381.62" y="630.0" width="5.62" height="66.82000000000001" fill="#ebf6e0"/>
<rect x="1386.64" y="630.0" width="6.88" height="66.82000000000001" fill="#e1f3f3"/>
<rect x="1392.92" y="630.0" width="6.63" height="66.82000000000001" fill="#f5f9cf"/>
<rect x="1398.95" y="630.0" width="6.25" height="66.82000000000001" fill="#fefbbc"/>
<rect x="1404.60" y="630.0" width="6.88" height="66.82000000000001" fill="#f9fac7"/>
<rect x="1410.87" y="630.0" width="6.50" height="66.82000000000001" fill="#f3f8d2"/>
<rect x="1416.78" y="630.0" width="6.63" height="66.82000000000001" fill="#dff2f6"/>
<rect x="1422.80" y="630.0" width="6.63" height="66.82000000000001" fill="#fbfbc3"/>
<rect x="1428.83" y="630.0" width="12.78" height="66.82000000000001" fill="#c3e0ed"/>
<rect x="1441.01" y="630.0" width="6.25" height="66.82000000000001" fill="#fefbbc"/>
<rect x="1446.66" y="630.0" width="6.88" height="66.82000000000001" fill="#f5f9cf"/>
<rect x="1452.94" y="630.0" width="6.63" height="66.82000000000001" fill="#edf7dd"/>
<rect x="1458.96" y="630.0" width="24.46" height="66.82000000000001" fill="#fdfcbf"/>
<rect x="1482.82" y="630.0" width="6.12" height="66.82000000000001" fill="#edf7dd"/>
<rect x="1488.35" y="630.0" width="6.63" height="66.82000000000001" fill="#fdfcbf"/>
<rect x="1494.37" y="630.0" width="6.88" height="66.82000000000001" fill="#d2e9f2"/>
<rect x="1500.65" y="630.0" width="18.18" height="66.82000000000001" fill="#eaf5e3"/>
<rect x="1518.23" y="630.0" width="6.63" height="66.82000000000001" fill="#fde9a0"/>
<rect x="1524.26" y="630.0" width="12.15" height="66.82000000000001" fill="#ebf6e0"/>
<rect x="1535.81" y="630.0" width="6.88" height="66.82000000000001" fill="#f3f8d2"/>
<rect x="1542.09" y="630.0" width="7.13" height="66.82000000000001" fill="#c8e3ef"/>
<rect x="1548.61" y="630.0" width="5.62" height="66.82000000000001" fill="#fefbbc"/>
<rect x="1553.64" y="630.0" width="7.25" height="66.82000000000001" fill="#fde89d"/>
<rect x="1560.29" y="630.0" width="6.50" height="66.82000000000001" fill="#f1f8d6"/>
<rect x="1566.19" y="630.0" width="23.95" height="66.82000000000001" fill="#fdfcbf"/>
<rect x="1589.55" y="630.0" width="5.87" height="66.82000000000001" fill="#fde9a0"/>
<rect x="1594.82" y="630.0" width="12.78" height="66.82000000000001" fill="#feeea8"/>
<rect x="1607.00" y="630.0" width="1.60" height="66.82000000000001" fill="#fef5b3"/>
<rect x="1608.00" y="630.0" width="11.90" height="66.82000000000001" fill="#fcd288"/>
<rect x="1619.30" y="630.0" width="7.13" height="66.82000000000001" fill="#fef9b8"/>
<rect x="1625.83" y="630.0" width="6.63" height="66.82000000000001" fill="#ebf6e0"/>
<rect x="1631.86" y="630.0" width="5.87" height="66.82000000000001" fill="#fdeba3"/>
<rect x="1637.13" y="630.0" width="7.13" height="66.82000000000001" fill="#f9fac7"/>
<rect x="1643.66" y="630.0" width="6.88" height="66.82000000000001" fill="#fdeba3"/>
<rect x="1649.94" y="630.0" width="5.62" height="66.82000000000001" fill="#eff7da"/>
<rect x="1654.96" y="630.0" width="13.16" height="66.82000000000001" fill="#fef3b0"/>
<rect x="1667.52" y="630.0" width="18.18" height="66.82000000000001" fill="#fef5b3"/>
<rect x="1685.10" y="630.0" width="6.88" height="66.82000000000001" fill="#fde69b"/>
<rect x="1691.38" y="630.0" width="12.28" height="66.82000000000001" fill="#fdfcbf"/>
<rect x="1703.05" y="630.0" width="6.88" height="66.82000000000001" fill="#fef7b5"/>
<rect x="1709.33" y="630.0" width="6.25" height="66.82000000000001" fill="#fcb977"/>
<rect x="1714.98" y="630.0" width="6.63" height="66.82000000000001" fill="#eaf5e3"/>
<rect x="1721.01" y="630.0" width="6.50" height="66.82000000000001" fill="#f5f9cf"/>
<rect x="1726.91" y="630.0" width="24.46" height="66.82000000000001" fill="#fef5b3"/>
<rect x="1750.77" y="630.0" width="6.25" height="66.82000000000001" fill="#fdfcbf"/>
<rect x="1756.42" y="630.0" width="6.88" height="66.82000000000001" fill="#e3f3f0"/>
<rect x="1762.70" y="630.0" width="6.88" height="66.82000000000001" fill="#fa9961"/>
<rect x="1768.97" y="630.0" width="12.15" height="66.82000000000001" fill="#fde89d"/>
<rect x="1780.52" y="630.0" width="6.63" height="66.82000000000001" fill="#f5f9cf"/>
<rect x="1786.55" y="630.0" width="18.43" height="66.82000000000001" fill="#fde69b"/>
<rect x="1804.38" y="630.0" width="6.88" height="66.82000000000001" fill="#fddf90"/>
<rect x="1810.66" y="630.0" width="6.38" height="66.82000000000001" fill="#fef0ab"/>
<rect x="1816.43" y="630.0" width="6.12" height="66.82000000000001" fill="#f9fac7"/>
<rect x="1821.96" y="630.0" width="12.90" height="66.82000000000001" fill="#dcf0f6"/>
<rect x="1834.26" y="630.0" width="6.88" height="66.82000000000001" fill="#fef5b3"/>
<rect x="1840.54" y="630.0" width="17.86" height="66.82000000000001" fill="#fefbbc"/>
<rect x="1357.50" y="696.42" width="6.26" height="66.82000000000001" fill="#fefbbc"/>
<rect x="1363.16" y="696.42" width="6.25" height="66.82000000000001" fill="#c8e3ef"/>
<rect x="1368.81" y="696.42" width="6.88" height="66.82000000000001" fill="#f9fac7"/>
<rect x="1375.09" y="696.42" width="12.15" height="66.82000000000001" fill="#fefbbc"/>
<rect x="1386.64" y="696.42" width="6.88" height="66.82000000000001" fill="#dff2f6"/>
<rect x="1392.92" y="696.42" width="6.63" height="66.82000000000001" fill="#ebf6e0"/>
<rect x="1398.95" y="696.42" width="6.25" height="66.82000000000001" fill="#fefbbc"/>
<rect x="1404.60" y="696.42" width="6.88" height="66.82000000000001" fill="#fef3b0"/>
<rect x="1410.87" y="696.42" width="6.50" height="66.82000000000001" fill="#f9fac7"/>
<rect x="1416.78" y="696.42" width="12.65" height="66.82000000000001" fill="#fdfcbf"/>
<rect x="1428.83" y="696.42" width="6.50" height="66.82000000000001" fill="#dff2f6"/>
<rect x="1434.73" y="696.42" width="6.88" height="66.82000000000001" fill="#91bfdb"/>
<rect x="1441.01" y="696.42" width="12.53" height="66.82000000000001" fill="#fefbbc"/>
<rect x="1452.94" y="696.42" width="12.90" height="66.82000000000001" fill="#fbfbc3"/>
<rect x="1465.24" y="696.42" width="5.62" height="66.82000000000001" fill="#fef5b3"/>
<rect x="1470.26" y="696.42" width="6.88" height="66.82000000000001" fill="#fefbbc"/>
<rect x="1476.54" y="696.42" width="18.43" height="66.82000000000001" fill="#eff7da"/>
<rect x="1494.37" y="696.42" width="6.88" height="66.82000000000001" fill="#9bc6df"/>
<rect x="1500.65" y="696.42" width="6.63" height="66.82000000000001" fill="#afd3e6"/>
<rect x="1506.68" y="696.42" width="12.15" height="66.82000000000001" fill="#fefbbc"/>
<rect x="1518.23" y="696.42" width="6.63" height="66.82000000000001" fill="#fef3b0"/>
<rect x="1524.26" y="696.42" width="6.88" height="66.82000000000001" fill="#feeea8"/>
<rect x="1530.53" y="696.42" width="5.87" height="66.82000000000001" fill="#f5f9cf"/>
<rect x="1535.81" y="696.42" width="6.88" height="66.82000000000001" fill="#fef5b3"/>
<rect x="1542.09" y="696.42" width="7.13" height="66.82000000000001" fill="#eaf5e3"/>
<rect x="1548.61" y="696.42" width="5.62" height="66.82000000000001" fill="#fdeda5"/>
<rect x="1553.64" y="696.42" width="7.25" height="66.82000000000001" fill="#fef9b8"/>
<rect x="1560.29" y="696.42" width="6.50" height="66.82000000000001" fill="#fdeba3"/>
<rect x="1566.19" y="696.42" width="6.38" height="66.82000000000001" fill="#fde497"/>
<rect x="1571.97" y="696.42" width="12.78" height="66.82000000000001" fill="#fef5b3"/>
<rect x="1584.15" y="696.42" width="6.00" height="66.82000000000001" fill="#fdeda5"/>
<rect x="1589.55" y="696.42" width="6.50" height="66.82000000000001" fill="#fefbbc"/>
<rect x="1595.45" y="696.42" width="12.15" height="66.82000000000001" fill="#f1f8d6"/>
<rect x="1607.00" y="696.42" width="7.51" height="66.82000000000001" fill="#f5f9cf"/>
<rect x="1613.91" y="696.42" width="7.51" height="66.82000000000001" fill="#fef2ad"/>
<rect x="1620.81" y="696.42" width="23.45" height="66.82000000000001" fill="#fef9b8"/>
<rect x="1643.66" y="696.42" width="6.88" height="66.82000000000001" fill="#dff2f6"/>
<rect x="1649.94" y="696.42" width="5.62" height="66.82000000000001" fill="#fef9b8"/>
<rect x="1654.96" y="696.42" width="6.88" height="66.82000000000001" fill="#fef2ad"/>
<rect x="1661.24" y="696.42" width="6.88" height="66.82000000000001" fill="#fef9b8"/>
<rect x="1667.52" y="696.42" width="6.00" height="66.82000000000001" fill="#fef2ad"/>
<rect x="1672.92" y="696.42" width="6.88" height="66.82000000000001" fill="#fde9a0"/>
<rect x="1679.20" y="696.42" width="6.50" height="66.82000000000001" fill="#fddf90"/>
<rect x="1685.10" y="696.42" width="6.88" height="66.82000000000001" fill="#fdeba3"/>
<rect x="1691.38" y="696.42" width="6.38" height="66.82000000000001" fill="#fef3b0"/>
<rect x="1697.15" y="696.42" width="6.50" height="66.82000000000001" fill="#fdeba3"/>
<rect x="1703.05" y="696.42" width="6.88" height="66.82000000000001" fill="#fde69b"/>
<rect x="1709.33" y="696.42" width="6.25" height="66.82000000000001" fill="#fef3b0"/>
<rect x="1714.98" y="696.42" width="18.81" height="66.82000000000001" fill="#fefaba"/>
<rect x="1733.19" y="696.42" width="12.28" height="66.82000000000001" fill="#feeea8"/>
<rect x="1744.87" y="696.42" width="6.50" height="66.82000000000001" fill="#fefbbc"/>
<rect x="1750.77" y="696.42" width="6.25" height="66.82000000000001" fill="#fde497"/>
<rect x="1756.42" y="696.42" width="6.88" height="66.82000000000001" fill="#e5f4ed"/>
<rect x="1762.70" y="696.42" width="6.88" height="66.82000000000001" fill="#96c2dd"/>
<rect x="1768.97" y="696.42" width="12.15" height="66.82000000000001" fill="#feeea8"/>
<rect x="1780.52" y="696.42" width="12.65" height="66.82000000000001" fill="#fef5b3"/>
<rect x="1792.58" y="696.42" width="12.40" height="66.82000000000001" fill="#fbfbc3"/>
<rect x="1804.38" y="696.42" width="6.88" height="66.82000000000001" fill="#fef2ad"/>
<rect x="1810.66" y="696.42" width="18.56" height="66.82000000000001" fill="#feeea8"/>
<rect x="1828.61" y="696.42" width="18.18" height="66.82000000000001" fill="#fbfbc3"/>
<rect x="1846.19" y="696.42" width="6.88" height="66.82000000000001" fill="#fde497"/>
<rect x="1852.47" y="696.42" width="5.93" height="66.82000000000001" fill="#fef3b0"/>
<rect x="1357.50" y="762.84" width="6.26" height="66.82000000000001" fill="#fdfcbf"/>
<rect x="1363.16" y="762.84" width="12.53" height="66.82000000000001" fill="#f7facb"/>
<rect x="1375.09" y="762.84" width="7.13" height="66.82000000000001" fill="#fdeda5"/>
<rect x="1381.62" y="762.84" width="5.62" height="66.82000000000001" fill="#fefbbc"/>
<rect x="1386.64" y="762.84" width="6.88" height="66.82000000000001" fill="#f9fac7"/>
<rect x="1392.92" y="762.84" width="6.63" height="66.82000000000001" fill="#fefbbc"/>
<rect x="1398.95" y="762.84" width="12.53" height="66.82000000000001" fill="#fef9b8"/>
<rect x="1410.87" y="762.84" width="6.50" height="66.82000000000001" fill="#fef5b3"/>
<rect x="1416.78" y="762.84" width="6.63" height="66.82000000000001" fill="#dcf0f6"/>
<rect x="1422.80" y="762.84" width="6.63" height="66.82000000000001" fill="#fef9b8"/>
<rect x="1428.83" y="762.84" width="6.50" height="66.82000000000001" fill="#e5f4ed"/>
<rect x="1434.73" y="762.84" width="6.88" height="66.82000000000001" fill="#a5cce2"/>
<rect x="1441.01" y="762.84" width="12.53" height="66.82000000000001" fill="#fefbbc"/>
<rect x="1452.94" y="762.84" width="6.63" height="66.82000000000001" fill="#f3f8d2"/>
<rect x="1458.96" y="762.84" width="6.88" height="66.82000000000001" fill="#cde6f0"/>
<rect x="1465.24" y="762.84" width="5.62" height="66.82000000000001" fill="#f7facb"/>
<rect x="1470.26" y="762.84" width="6.88" height="66.82000000000001" fill="#fdfcbf"/>
<rect x="1476.54" y="762.84" width="6.88" height="66.82000000000001" fill="#fdeba3"/>
<rect x="1482.82" y="762.84" width="12.15" height="66.82000000000001" fill="#fef5b3"/>
<rect x="1494.37" y="762.84" width="6.88" height="66.82000000000001" fill="#dff2f6"/>
<rect x="1500.65" y="762.84" width="18.18" height="66.82000000000001" fill="#edf7dd"/>
<rect x="1518.23" y="762.84" width="12.90" height="66.82000000000001" fill="#ebf6e0"/>
<rect x="1530.53" y="762.84" width="12.15" height="66.82000000000001" fill="#eff7da"/>
<rect x="1542.09" y="762.84" width="7.13" height="66.82000000000001" fill="#afd3e6"/>
<rect x="1548.61" y="762.84" width="5.62" height="66.82000000000001" fill="#ebf6e0"/>
<rect x="1553.64" y="762.84" width="7.25" height="66.82000000000001" fill="#fde89d"/>
<rect x="1560.29" y="762.84" width="12.28" height="66.82000000000001" fill="#fcd288"/>
<rect x="1571.97" y="762.84" width="6.50" height="66.82000000000001" fill="#fdeba3"/>
<rect x="1577.87" y="762.84" width="6.88" height="66.82000000000001" fill="#f9fac7"/>
<rect x="1584.15" y="762.84" width="6.00" height="66.82000000000001" fill="#fef3b0"/>
<rect x="1589.55" y="762.84" width="6.50" height="66.82000000000001" fill="#fde69b"/>
<rect x="1595.45" y="762.84" width="12.15" height="66.82000000000001" fill="#fdeba3"/>
<rect x="1607.00" y="762.84" width="1.60" height="66.82000000000001" fill="#fefbbc"/>
<rect x="1608.00" y="762.84" width="5.87" height="66.82000000000001" fill="#fdd88c"/>
<rect x="1613.28" y="762.84" width="6.88" height="66.82000000000001" fill="#feeea8"/>
<rect x="1619.56" y="762.84" width="6.88" height="66.82000000000001" fill="#fef5b3"/>
<rect x="1625.83" y="762.84" width="6.63" height="66.82000000000001" fill="#eaf5e3"/>
<rect x="1631.86" y="762.84" width="5.87" height="66.82000000000001" fill="#fde9a0"/>
<rect x="1637.13" y="762.84" width="13.41" height="66.82000000000001" fill="#fefbbc"/>
<rect x="1649.94" y="762.84" width="5.62" height="66.82000000000001" fill="#fef2ad"/>
<rect x="1654.96" y="762.84" width="6.88" height="66.82000000000001" fill="#f9fac7"/>
<rect x="1661.24" y="762.84" width="6.88" height="66.82000000000001" fill="#fefbbc"/>
<rect x="1667.52" y="762.84" width="12.28" height="66.82000000000001" fill="#fef2ad"/>
<rect x="1679.20" y="762.84" width="12.78" height="66.82000000000001" fill="#feeea8"/>
<rect x="1691.38" y="762.84" width="6.38" height="66.82000000000001" fill="#fefbbc"/>
<rect x="1697.15" y="762.84" width="6.50" height="66.82000000000001" fill="#fef2ad"/>
<rect x="1703.05" y="762.84" width="6.88" height="66.82000000000001" fill="#fde89d"/>
<rect x="1709.33" y="762.84" width="6.25" height="66.82000000000001" fill="#fef9b8"/>
<rect x="1714.98" y="762.84" width="6.63" height="66.82000000000001" fill="#f3f8d2"/>
<rect x="1721.01" y="762.84" width="6.50" height="66.82000000000001" fill="#e8f5e7"/>
<rect x="1726.91" y="762.84" width="12.28" height="66.82000000000001" fill="#fef0ab"/>
<rect x="1738.59" y="762.84" width="6.88" height="66.82000000000001" fill="#fef5b3"/>
<rect x="1744.87" y="762.84" width="6.50" height="66.82000000000001" fill="#fbfbc3"/>
<rect x="1750.77" y="762.84" width="6.25" height="66.82000000000001" fill="#fef7b5"/>
<rect x="1756.42" y="762.84" width="6.88" height="66.82000000000001" fill="#e8f5e7"/>
<rect x="1762.70" y="762.84" width="6.88" height="66.82000000000001" fill="#c3e0ed"/>
<rect x="1768.97" y="762.84" width="6.25" height="66.82000000000001" fill="#fdeba3"/>
<rect x="1774.62" y="762.84" width="6.50" height="66.82000000000001" fill="#fef3b0"/>
<rect x="1780.52" y="762.84" width="6.63" height="66.82000000000001" fill="#f5f9cf"/>
<rect x="1786.55" y="762.84" width="6.63" height="66.82000000000001" fill="#fef3b0"/>
<rect x="1792.58" y="762.84" width="6.50" height="66.82000000000001" fill="#fdeda5"/>
<rect x="1798.48" y="762.84" width="6.50" height="66.82000000000001" fill="#fef5b3"/>
<rect x="1804.38" y="762.84" width="12.65" height="66.82000000000001" fill="#f9fac7"/>
<rect x="1816.43" y="762.84" width="6.12" height="66.82000000000001" fill="#fde89d"/>
<rect x="1821.96" y="762.84" width="7.25" height="66.82000000000001" fill="#bedceb"/>
<rect x="1828.61" y="762.84" width="6.25" height="66.82000000000001" fill="#dcf0f6"/>
<rect x="1834.26" y="762.84" width="18.81" height="66.82000000000001" fill="#fefbbc"/>
<rect x="1852.47" y="762.84" width="5.93" height="66.82000000000001" fill="#feeea8"/>
<rect x="1357.50" y="829.26" width="6.64" height="66.82000000000001" fill="#f98c59"/>
<rect x="1363.54" y="829.26" width="5.87" height="66.82000000000001" fill="#f5f9cf"/>
<rect x="1368.81" y="829.26" width="6.88" height="66.82000000000001" fill="#fefbbc"/>
<rect x="1375.09" y="829.26" width="7.13" height="66.82000000000001" fill="#fdeda5"/>
<rect x="1381.62" y="829.26" width="5.62" height="66.82000000000001" fill="#fef9b8"/>
<rect x="1386.64" y="829.26" width="6.88" height="66.82000000000001" fill="#e5f4ed"/>
<rect x="1392.92" y="829.26" width="6.63" height="66.82000000000001" fill="#f3f8d2"/>
<rect x="1398.95" y="829.26" width="24.46" height="66.82000000000001" fill="#fefbbc"/>
<rect x="1422.80" y="829.26" width="6.63" height="66.82000000000001" fill="#fde69b"/>
<rect x="1428.83" y="829.26" width="6.50" height="66.82000000000001" fill="#edf7dd"/>
<rect x="1434.73" y="829.26" width="6.88" height="66.82000000000001" fill="#fde89d"/>
<rect x="1441.01" y="829.26" width="8.13" height="66.82000000000001" fill="#fefbbc"/>
<rect x="1448.54" y="829.26" width="11.02" height="66.82000000000001" fill="#fafbc5"/>
<rect x="1458.96" y="829.26" width="11.90" height="66.82000000000001" fill="#fdeda5"/>
<rect x="1470.26" y="829.26" width="6.88" height="66.82000000000001" fill="#fef2ad"/>
<rect x="1476.54" y="829.26" width="6.88" height="66.82000000000001" fill="#f3f8d2"/>
<rect x="1482.82" y="829.26" width="6.12" height="66.82000000000001" fill="#fcc57f"/>
<rect x="1488.35" y="829.26" width="6.63" height="66.82000000000001" fill="#f3f8d2"/>
<rect x="1494.37" y="829.26" width="6.88" height="66.82000000000001" fill="#fa935d"/>
<rect x="1500.65" y="829.26" width="6.63" height="66.82000000000001" fill="#cde6f0"/>
<rect x="1506.68" y="829.26" width="6.12" height="66.82000000000001" fill="#fdeba3"/>
<rect x="1512.20" y="829.26" width="12.65" height="66.82000000000001" fill="#fcd288"/>
<rect x="1524.26" y="829.26" width="12.15" height="66.82000000000001" fill="#fdeda5"/>
<rect x="1535.81" y="829.26" width="13.41" height="66.82000000000001" fill="#fde9a0"/>
<rect x="1548.61" y="829.26" width="5.62" height="66.82000000000001" fill="#f3f8d2"/>
<rect x="1553.64" y="829.26" width="7.25" height="66.82000000000001" fill="#fde9a0"/>
<rect x="1560.29" y="829.26" width="6.50" height="66.82000000000001" fill="#fbfbc3"/>
<rect x="1566.19" y="829.26" width="12.28" height="66.82000000000001" fill="#fef5b3"/>
<rect x="1577.87" y="829.26" width="18.18" height="66.82000000000001" fill="#fef3b0"/>
<rect x="1595.45" y="829.26" width="12.15" height="66.82000000000001" fill="#f3f8d2"/>
<rect x="1607.00" y="829.26" width="13.16" height="66.82000000000001" fill="#fefbbc"/>
<rect x="1619.56" y="829.26" width="6.88" height="66.82000000000001" fill="#f9fac7"/>
<rect x="1625.83" y="829.26" width="11.90" height="66.82000000000001" fill="#f5f9cf"/>
<rect x="1637.13" y="829.26" width="13.41" height="66.82000000000001" fill="#f3f8d2"/>
<rect x="1649.94" y="829.26" width="11.90" height="66.82000000000001" fill="#feeea8"/>
<rect x="1661.24" y="829.26" width="6.88" height="66.82000000000001" fill="#fefbbc"/>
<rect x="1667.52" y="829.26" width="6.00" height="66.82000000000001" fill="#fef5b3"/>
<rect x="1672.92" y="829.26" width="19.06" height="66.82000000000001" fill="#fefbbc"/>
<rect x="1691.38" y="829.26" width="12.28" height="66.82000000000001" fill="#f5f9cf"/>
<rect x="1703.05" y="829.26" width="6.88" height="66.82000000000001" fill="#fbac6e"/>
<rect x="1709.33" y="829.26" width="6.25" height="66.82000000000001" fill="#f9fac7"/>
<rect x="1714.98" y="829.26" width="12.53" height="66.82000000000001" fill="#e8f5e7"/>
<rect x="1726.91" y="829.26" width="6.88" height="66.82000000000001" fill="#eff7da"/>
<rect x="1733.19" y="829.26" width="12.28" height="66.82000000000001" fill="#fef7b5"/>
<rect x="1744.87" y="829.26" width="6.50" height="66.82000000000001" fill="#eff7da"/>
<rect x="1750.77" y="829.26" width="6.25" height="66.82000000000001" fill="#fdeba3"/>
<rect x="1756.42" y="829.26" width="6.88" height="66.82000000000001" fill="#dff2f6"/>
<rect x="1762.70" y="829.26" width="6.88" height="66.82000000000001" fill="#9bc6df"/>
<rect x="1768.97" y="829.26" width="12.15" height="66.82000000000001" fill="#fef9b8"/>
<rect x="1780.52" y="829.26" width="6.63" height="66.82000000000001" fill="#f9fac7"/>
<rect x="1786.55" y="829.26" width="12.53" height="66.82000000000001" fill="#fefbbc"/>
<rect x="1798.48" y="829.26" width="12.78" height="66.82000000000001" fill="#fef7b5"/>
<rect x="1810.66" y="829.26" width="6.38" height="66.82000000000001" fill="#f3f8d2"/>
<rect x="1816.43" y="829.26" width="6.12" height="66.82000000000001" fill="#fef5b3"/>
<rect x="1821.96" y="829.26" width="7.25" height="66.82000000000001" fill="#e6f4ea"/>
<rect x="1828.61" y="829.26" width="6.25" height="66.82000000000001" fill="#dcf0f6"/>
<rect x="1834.26" y="829.26" width="6.88" height="66.82000000000001" fill="#f9fac7"/>
<rect x="1840.54" y="829.26" width="12.53" height="66.82000000000001" fill="#f3f8d2"/>
<rect x="1852.47" y="829.26" width="5.93" height="66.82000000000001" fill="#fefbbc"/>
<rect x="1357.50" y="895.6800000000001" width="6.64" height="66.82000000000001" fill="#fef5b3"/>
<rect x="1363.54" y="895.6800000000001" width="5.87" height="66.82000000000001" fill="#ebf6e0"/>
<rect x="1368.81" y="895.6800000000001" width="13.41" height="66.82000000000001" fill="#feeea8"/>
<rect x="1381.62" y="895.6800000000001" width="5.62" height="66.82000000000001" fill="#fcbf7b"/>
<rect x="1386.64" y="895.6800000000001" width="6.88" height="66.82000000000001" fill="#b4d6e7"/>
<rect x="1392.92" y="895.6800000000001" width="6.63" height="66.82000000000001" fill="#fef5b3"/>
<rect x="1398.95" y="895.6800000000001" width="6.25" height="66.82000000000001" fill="#feeea8"/>
<rect x="1404.60" y="895.6800000000001" width="6.88" height="66.82000000000001" fill="#fde89d"/>
<rect x="1410.87" y="895.6800000000001" width="6.50" height="66.82000000000001" fill="#f9fac7"/>
<rect x="1416.78" y="895.6800000000001" width="6.63" height="66.82000000000001" fill="#eaf5e3"/>
<rect x="1422.80" y="895.6800000000001" width="6.63" height="66.82000000000001" fill="#f1f8d6"/>
<rect x="1428.83" y="895.6800000000001" width="6.50" height="66.82000000000001" fill="#e5f4ed"/>
<rect x="1434.73" y="895.6800000000001" width="6.88" height="66.82000000000001" fill="#fef5b3"/>
<rect x="1441.01" y="895.6800000000001" width="6.25" height="66.82000000000001" fill="#fde89d"/>
<rect x="1446.66" y="895.6800000000001" width="12.90" height="66.82000000000001" fill="#fef9b8"/>
<rect x="1458.96" y="895.6800000000001" width="6.88" height="66.82000000000001" fill="#cde6f0"/>
<rect x="1465.24" y="895.6800000000001" width="5.62" height="66.82000000000001" fill="#fdeba3"/>
<rect x="1470.26" y="895.6800000000001" width="13.16" height="66.82000000000001" fill="#fefaba"/>
<rect x="1482.82" y="895.6800000000001" width="6.12" height="66.82000000000001" fill="#f5f9cf"/>
<rect x="1488.35" y="895.6800000000001" width="12.90" height="66.82000000000001" fill="#fefbbc"/>
<rect x="1500.65" y="895.6800000000001" width="6.63" height="66.82000000000001" fill="#eff7da"/>
<rect x="1506.68" y="895.6800000000001" width="6.12" height="66.82000000000001" fill="#feeea8"/>
<rect x="1512.20" y="895.6800000000001" width="18.93" height="66.82000000000001" fill="#fcfbc1"/>
<rect x="1530.53" y="895.6800000000001" width="5.87" height="66.82000000000001" fill="#feeea8"/>
<rect x="1535.81" y="895.6800000000001" width="6.88" height="66.82000000000001" fill="#fef3b0"/>
<rect x="1542.09" y="895.6800000000001" width="7.13" height="66.82000000000001" fill="#ebf6e0"/>
<rect x="1548.61" y="895.6800000000001" width="12.28" height="66.82000000000001" fill="#f7facb"/>
<rect x="1560.29" y="895.6800000000001" width="24.46" height="66.82000000000001" fill="#fbfbc3"/>
<rect x="1584.15" y="895.6800000000001" width="6.00" height="66.82000000000001" fill="#fdeba3"/>
<rect x="1589.55" y="895.6800000000001" width="12.78" height="66.82000000000001" fill="#fef2ad"/>
<rect x="1601.73" y="895.6800000000001" width="5.87" height="66.82000000000001" fill="#feeea8"/>
<rect x="1607.00" y="895.6800000000001" width="6.88" height="66.82000000000001" fill="#fef2ad"/>
<rect x="1613.28" y="895.6800000000001" width="6.88" height="66.82000000000001" fill="#fdeba3"/>
<rect x="1619.56" y="895.6800000000001" width="6.88" height="66.82000000000001" fill="#fef2ad"/>
<rect x="1625.83" y="895.6800000000001" width="6.63" height="66.82000000000001" fill="#eff7da"/>
<rect x="1631.86" y="895.6800000000001" width="5.87" height="66.82000000000001" fill="#fef5b3"/>
<rect x="1637.13" y="895.6800000000001" width="7.13" height="66.82000000000001" fill="#e1f3f3"/>
<rect x="1643.66" y="895.6800000000001" width="6.88" height="66.82000000000001" fill="#d7edf4"/>
<rect x="1649.94" y="895.6800000000001" width="5.62" height="66.82000000000001" fill="#fdeba3"/>
<rect x="1654.96" y="895.6800000000001" width="6.88" height="66.82000000000001" fill="#fbfbc3"/>
<rect x="1661.24" y="895.6800000000001" width="6.88" height="66.82000000000001" fill="#fef3b0"/>
<rect x="1667.52" y="895.6800000000001" width="6.00" height="66.82000000000001" fill="#f9fac7"/>
<rect x="1672.92" y="895.6800000000001" width="6.88" height="66.82000000000001" fill="#fef2ad"/>
<rect x="1679.20" y="895.6800000000001" width="6.50" height="66.82000000000001" fill="#eaf5e3"/>
<rect x="1685.10" y="895.6800000000001" width="6.88" height="66.82000000000001" fill="#fdeda5"/>
<rect x="1691.38" y="895.6800000000001" width="12.28" height="66.82000000000001" fill="#fef9b8"/>
<rect x="1703.05" y="895.6800000000001" width="6.88" height="66.82000000000001" fill="#f1f8d6"/>
<rect x="1709.33" y="895.6800000000001" width="6.25" height="66.82000000000001" fill="#fef9b8"/>
<rect x="1714.98" y="895.6800000000001" width="18.81" height="66.82000000000001" fill="#f7facb"/>
<rect x="1733.19" y="895.6800000000001" width="6.00" height="66.82000000000001" fill="#fef3b0"/>
<rect x="1738.59" y="895.6800000000001" width="12.78" height="66.82000000000001" fill="#feeea8"/>
<rect x="1750.77" y="895.6800000000001" width="6.25" height="66.82000000000001" fill="#f3f8d2"/>
<rect x="1756.42" y="895.6800000000001" width="6.88" height="66.82000000000001" fill="#b9d9e9"/>
<rect x="1762.70" y="895.6800000000001" width="6.88" height="66.82000000000001" fill="#4d7db8"/>
<rect x="1768.97" y="895.6800000000001" width="6.25" height="66.82000000000001" fill="#fef9b8"/>
<rect x="1774.62" y="895.6800000000001" width="6.50" height="66.82000000000001" fill="#fde9a0"/>
<rect x="1780.52" y="895.6800000000001" width="6.63" height="66.82000000000001" fill="#fef2ad"/>
<rect x="1786.55" y="895.6800000000001" width="6.63" height="66.82000000000001" fill="#f9fac7"/>
<rect x="1792.58" y="895.6800000000001" width="6.50" height="66.82000000000001" fill="#fef9b8"/>
<rect x="1798.48" y="895.6800000000001" width="12.78" height="66.82000000000001" fill="#fdeda5"/>
<rect x="1810.66" y="895.6800000000001" width="6.38" height="66.82000000000001" fill="#fbfbc3"/>
<rect x="1816.43" y="895.6800000000001" width="6.12" height="66.82000000000001" fill="#f5f9cf"/>
<rect x="1821.96" y="895.6800000000001" width="12.90" height="66.82000000000001" fill="#eaf5e3"/>
<rect x="1834.26" y="895.6800000000001" width="12.53" height="66.82000000000001" fill="#fdfcbf"/>
<rect x="1846.19" y="895.6800000000001" width="12.21" height="66.82000000000001" fill="#f5f9cf"/>
<rect x="1357.50" y="962.1" width="6.64" height="66.42" fill="#fde294"/>
<rect x="1363.54" y="962.1" width="5.87" height="66.42" fill="#dff2f6"/>
<rect x="1368.81" y="962.1" width="13.41" height="66.42" fill="#fdeda5"/>
<rect x="1381.62" y="962.1" width="5.62" height="66.42" fill="#fef2ad"/>
<rect x="1386.64" y="962.1" width="6.88" height="66.42" fill="#dff2f6"/>
<rect x="1392.92" y="962.1" width="6.63" height="66.42" fill="#f3f8d2"/>
<rect x="1398.95" y="962.1" width="18.43" height="66.42" fill="#fef2ad"/>
<rect x="1416.78" y="962.1" width="6.63" height="66.42" fill="#fcbf7b"/>
<rect x="1422.80" y="962.1" width="6.63" height="66.42" fill="#fdeba3"/>
<rect x="1428.83" y="962.1" width="12.78" height="66.42" fill="#fefbbc"/>
<rect x="1441.01" y="962.1" width="6.25" height="66.42" fill="#fdeda5"/>
<rect x="1446.66" y="962.1" width="6.88" height="66.42" fill="#fef9b8"/>
<rect x="1452.94" y="962.1" width="6.63" height="66.42" fill="#f9fac7"/>
<rect x="1458.96" y="962.1" width="6.88" height="66.42" fill="#fef5b3"/>
<rect x="1465.24" y="962.1" width="23.70" height="66.42" fill="#feefa9"/>
<rect x="1488.35" y="962.1" width="6.63" height="66.42" fill="#fef5b3"/>
<rect x="1494.37" y="962.1" width="6.88" height="66.42" fill="#fa935d"/>
<rect x="1500.65" y="962.1" width="6.63" height="66.42" fill="#e6f4ea"/>
<rect x="1506.68" y="962.1" width="12.15" height="66.42" fill="#fef5b3"/>
<rect x="1518.23" y="962.1" width="6.63" height="66.42" fill="#fde89d"/>
<rect x="1524.26" y="962.1" width="12.15" height="66.42" fill="#fef9b8"/>
<rect x="1535.81" y="962.1" width="6.88" height="66.42" fill="#fdeba3"/>
<rect x="1542.09" y="962.1" width="7.13" height="66.42" fill="#fef9b8"/>
<rect x="1548.61" y="962.1" width="5.62" height="66.42" fill="#f3f8d2"/>
<rect x="1553.64" y="962.1" width="13.16" height="66.42" fill="#fbfbc3"/>
<rect x="1566.19" y="962.1" width="6.38" height="66.42" fill="#e6f4ea"/>
<rect x="1571.97" y="962.1" width="12.78" height="66.42" fill="#fef5b3"/>
<rect x="1584.15" y="962.1" width="6.00" height="66.42" fill="#feeea8"/>
<rect x="1589.55" y="962.1" width="6.50" height="66.42" fill="#f9fac7"/>
<rect x="1595.45" y="962.1" width="12.15" height="66.42" fill="#eff7da"/>
<rect x="1607.00" y="962.1" width="6.88" height="66.42" fill="#edf7dd"/>
<rect x="1613.28" y="962.1" width="6.88" height="66.42" fill="#f9fac7"/>
<rect x="1619.56" y="962.1" width="6.88" height="66.42" fill="#fef9b8"/>
<rect x="1625.83" y="962.1" width="6.63" height="66.42" fill="#eff7da"/>
<rect x="1631.86" y="962.1" width="5.87" height="66.42" fill="#f7facb"/>
<rect x="1637.13" y="962.1" width="7.13" height="66.42" fill="#edf7dd"/>
<rect x="1643.66" y="962.1" width="6.88" height="66.42" fill="#dcf0f6"/>
<rect x="1649.94" y="962.1" width="5.62" height="66.42" fill="#f3f8d2"/>
<rect x="1654.96" y="962.1" width="13.16" height="66.42" fill="#fef3b0"/>
<rect x="1667.52" y="962.1" width="12.28" height="66.42" fill="#fef0ab"/>
<rect x="1679.20" y="962.1" width="6.50" height="66.42" fill="#f3f8d2"/>
<rect x="1685.10" y="962.1" width="6.88" height="66.42" fill="#fef2ad"/>
<rect x="1691.38" y="962.1" width="12.28" height="66.42" fill="#fef9b8"/>
<rect x="1703.05" y="962.1" width="6.88" height="66.42" fill="#fde497"/>
<rect x="1709.33" y="962.1" width="6.25" height="66.42" fill="#fdeda5"/>
<rect x="1714.98" y="962.1" width="6.63" height="66.42" fill="#f3f8d2"/>
<rect x="1721.01" y="962.1" width="6.50" height="66.42" fill="#eaf5e3"/>
<rect x="1726.91" y="962.1" width="6.88" height="66.42" fill="#e3f3f0"/>
<rect x="1733.19" y="962.1" width="6.00" height="66.42" fill="#fef5b3"/>
<rect x="1738.59" y="962.1" width="6.88" height="66.42" fill="#fbfbc3"/>
<rect x="1744.87" y="962.1" width="6.50" height="66.42" fill="#fef5b3"/>
<rect x="1750.77" y="962.1" width="6.25" height="66.42" fill="#fde69b"/>
<rect x="1756.42" y="962.1" width="6.88" height="66.42" fill="#c3e0ed"/>
<rect x="1762.70" y="962.1" width="6.88" height="66.42" fill="#74a3cc"/>
<rect x="1768.97" y="962.1" width="6.25" height="66.42" fill="#edf7dd"/>
<rect x="1774.62" y="962.1" width="6.50" height="66.42" fill="#fde89d"/>
<rect x="1780.52" y="962.1" width="12.65" height="66.42" fill="#fef9b8"/>
<rect x="1792.58" y="962.1" width="6.50" height="66.42" fill="#f3f8d2"/>
<rect x="1798.48" y="962.1" width="6.50" height="66.42" fill="#fef9b8"/>
<rect x="1804.38" y="962.1" width="6.88" height="66.42" fill="#fef2ad"/>
<rect x="1810.66" y="962.1" width="6.38" height="66.42" fill="#fefbbc"/>
<rect x="1816.43" y="962.1" width="6.12" height="66.42" fill="#f5f9cf"/>
<rect x="1821.96" y="962.1" width="7.25" height="66.42" fill="#eaf5e3"/>
<rect x="1828.61" y="962.1" width="6.25" height="66.42" fill="#dcf0f6"/>
<rect x="1834.26" y="962.1" width="24.14" height="66.42" fill="#fefcbd"/>
</g>
<text x="1861.7" y="570.3000000000001" font-size="11.6" class="b">N_stage</text>
<text x="1861.7" y="584.0" font-size="11.6" class="b">T_stage</text>
<text x="1861.7" y="597.8000000000001" font-size="11.6" class="b">Grade</text>
<text x="1861.7" y="611.7" font-size="11.6" class="b">Fustat</text>
<text x="1861.7" y="625.4" font-size="11.6" class="b">Risk</text>
<text x="1861.7" y="668.2" font-size="13.8" class="s">PLAC9</text>
<text x="1861.7" y="734.62" font-size="13.8" class="s">SELM</text>
<text x="1861.7" y="801.0400000000001" font-size="13.8" class="s">SOD3</text>
<text x="1861.7" y="867.46" font-size="13.8" class="s">CAV1</text>
<text x="1861.7" y="933.8800000000001" font-size="13.8" class="s">IGFBP3</text>
<text x="1861.7" y="1000.3000000000001" font-size="13.8" class="s">PLAU</text>
<linearGradient id="gF" x1="0" y1="0" x2="0" y2="1"><stop offset="0.0000" stop-color="#d73027"/><stop offset="0.1667" stop-color="#fa8e5a"/><stop offset="0.3333" stop-color="#fde091"/><stop offset="0.5000" stop-color="#fefcbe"/><stop offset="0.6667" stop-color="#dff2f7"/><stop offset="0.8333" stop-color="#91bfdb"/><stop offset="1.0000" stop-color="#4575b4"/></linearGradient>
<rect x="1918.6" y="558.8" width="12.2" height="172.20000000000005" fill="url(#gF)"/>
<text x="1935.8" y="571" font-size="10.5" class="s">4</text>
<text x="1935.8" y="610" font-size="10.5" class="s">2</text>
<text x="1935.8" y="649" font-size="10.5" class="s">0</text>
<text x="1935.8" y="688.5" font-size="10.5" class="s">−2</text>
<text x="1935.8" y="727" font-size="10.5" class="s">−4</text>
<text x="1951.7" y="567" font-size="11.5" class="b">N_stage</text>
<rect x="1951.6" y="570.5" width="16.7" height="16.7" fill="#4cb58a"/>
<text x="1971.6" y="582.7" font-size="10.9" class="s">N1</text>
<rect x="1951.6" y="587" width="16.7" height="16.7" fill="#f6a13a"/>
<text x="1971.6" y="599.2" font-size="10.9" class="s">N0</text>
<text x="1951.7" y="625" font-size="11.5" class="b">T_stage</text>
<rect x="1951.6" y="629" width="16.7" height="16.7" fill="#cc8fc0"/>
<text x="1971.6" y="641.2" font-size="10.9" class="s">T1</text>
<rect x="1951.6" y="645.5" width="16.7" height="16.7" fill="#5fb53c"/>
<text x="1971.6" y="657.7" font-size="10.9" class="s">T2</text>
<rect x="1951.6" y="662" width="16.7" height="16.7" fill="#d9b700"/>
<text x="1971.6" y="674.2" font-size="10.9" class="s">T3</text>
<rect x="1951.6" y="678.5" width="16.7" height="16.7" fill="#58bfb4"/>
<text x="1971.6" y="690.7" font-size="10.9" class="s">T4</text>
<text x="1951.7" y="716" font-size="11.5" class="b">Grade</text>
<rect x="1951.6" y="720" width="16.7" height="16.7" fill="#3cc0e6"/>
<text x="1971.6" y="732.2" font-size="10.9" class="s">I</text>
<rect x="1951.6" y="736.5" width="16.7" height="16.7" fill="#ee82b4"/>
<text x="1971.6" y="748.7" font-size="10.9" class="s">II</text>
<rect x="1951.6" y="753" width="16.7" height="16.7" fill="#a5a8d8"/>
<text x="1971.6" y="765.2" font-size="10.9" class="s">III</text>
<text x="1951.7" y="790.5" font-size="11.5" class="b">Fustat</text>
<rect x="1951.6" y="794" width="16.7" height="16.7" fill="#a8bf0a"/>
<text x="1971.6" y="806.2" font-size="10.9" class="s">Alive</text>
<rect x="1951.6" y="810.5" width="16.7" height="16.7" fill="#cc96c8"/>
<text x="1971.6" y="822.7" font-size="10.9" class="s">Dead</text>
<text x="1951.7" y="848" font-size="11.5" class="b">Risk</text>
<rect x="1951.6" y="852" width="16.7" height="16.7" fill="#f28e86"/>
<text x="1971.6" y="864.2" font-size="10.9" class="s">High</text>
<rect x="1951.6" y="868.5" width="16.7" height="16.7" fill="#3cbcee"/>
<text x="1971.6" y="880.7" font-size="10.9" class="s">Low</text>
</svg>
</body></html>
